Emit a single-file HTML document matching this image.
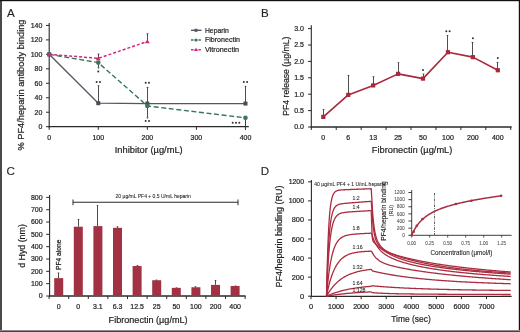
<!DOCTYPE html><html><head><meta charset="utf-8"><style>
html,body{margin:0;padding:0;background:#fff;}
svg{display:block;font-family:"Liberation Sans", sans-serif;will-change:transform;}
</style></head><body>
<svg width="520" height="332" viewBox="0 0 520 332">
<rect width="520" height="332" fill="#fff"/>
<text x="7.0" y="16.8" font-size="11.6" text-anchor="start" fill="#231f20" stroke="#231f20" stroke-width="0.12">A</text>
<line x1="49.20" y1="23.00" x2="49.20" y2="127.40" stroke="#2a2a2a" stroke-width="1.1"/>
<line x1="48.60" y1="126.70" x2="248.80" y2="126.70" stroke="#2a2a2a" stroke-width="1.3"/>
<line x1="46.00" y1="126.70" x2="49.20" y2="126.70" stroke="#2a2a2a" stroke-width="1"/>
<text x="42.4" y="129.15" font-size="7" text-anchor="end" fill="#231f20" stroke="#231f20" stroke-width="0.22">0</text>
<line x1="46.00" y1="112.23" x2="49.20" y2="112.23" stroke="#2a2a2a" stroke-width="1"/>
<text x="42.4" y="114.68" font-size="7" text-anchor="end" fill="#231f20" stroke="#231f20" stroke-width="0.22">20</text>
<line x1="46.00" y1="97.76" x2="49.20" y2="97.76" stroke="#2a2a2a" stroke-width="1"/>
<text x="42.4" y="100.21000000000001" font-size="7" text-anchor="end" fill="#231f20" stroke="#231f20" stroke-width="0.22">40</text>
<line x1="46.00" y1="83.29" x2="49.20" y2="83.29" stroke="#2a2a2a" stroke-width="1"/>
<text x="42.4" y="85.74" font-size="7" text-anchor="end" fill="#231f20" stroke="#231f20" stroke-width="0.22">60</text>
<line x1="46.00" y1="68.82" x2="49.20" y2="68.82" stroke="#2a2a2a" stroke-width="1"/>
<text x="42.4" y="71.27" font-size="7" text-anchor="end" fill="#231f20" stroke="#231f20" stroke-width="0.22">80</text>
<line x1="46.00" y1="54.35" x2="49.20" y2="54.35" stroke="#2a2a2a" stroke-width="1"/>
<text x="42.4" y="56.8" font-size="7" text-anchor="end" fill="#231f20" stroke="#231f20" stroke-width="0.22">100</text>
<line x1="46.00" y1="39.88" x2="49.20" y2="39.88" stroke="#2a2a2a" stroke-width="1"/>
<text x="42.4" y="42.33" font-size="7" text-anchor="end" fill="#231f20" stroke="#231f20" stroke-width="0.22">120</text>
<line x1="46.00" y1="25.41" x2="49.20" y2="25.41" stroke="#2a2a2a" stroke-width="1"/>
<text x="42.4" y="27.859999999999996" font-size="7" text-anchor="end" fill="#231f20" stroke="#231f20" stroke-width="0.22">140</text>
<line x1="49.20" y1="126.70" x2="49.20" y2="129.80" stroke="#2a2a2a" stroke-width="1"/>
<text x="49.2" y="139.6" font-size="7" text-anchor="middle" fill="#231f20" stroke="#231f20" stroke-width="0.22">0</text>
<line x1="98.27" y1="126.70" x2="98.27" y2="129.80" stroke="#2a2a2a" stroke-width="1"/>
<text x="98.27000000000001" y="139.6" font-size="7" text-anchor="middle" fill="#231f20" stroke="#231f20" stroke-width="0.22">100</text>
<line x1="147.34" y1="126.70" x2="147.34" y2="129.80" stroke="#2a2a2a" stroke-width="1"/>
<text x="147.34" y="139.6" font-size="7" text-anchor="middle" fill="#231f20" stroke="#231f20" stroke-width="0.22">200</text>
<line x1="196.41" y1="126.70" x2="196.41" y2="129.80" stroke="#2a2a2a" stroke-width="1"/>
<text x="196.41000000000003" y="139.6" font-size="7" text-anchor="middle" fill="#231f20" stroke="#231f20" stroke-width="0.22">300</text>
<line x1="245.48" y1="126.70" x2="245.48" y2="129.80" stroke="#2a2a2a" stroke-width="1"/>
<text x="245.48000000000002" y="139.6" font-size="7" text-anchor="middle" fill="#231f20" stroke="#231f20" stroke-width="0.22">400</text>
<text x="148.7" y="153.2" font-size="9.3" text-anchor="middle" fill="#231f20" textLength="67.9" lengthAdjust="spacingAndGlyphs" stroke="#231f20" stroke-width="0.22">Inhibitor (µg/mL)</text>
<text x="24.3" y="85.0" font-size="9.6" text-anchor="middle" fill="#231f20" textLength="131" lengthAdjust="spacingAndGlyphs" transform="rotate(-90 24.3 85.0)" stroke="#231f20" stroke-width="0.22">% PF4/heparin antibody binding</text>
<line x1="98.50" y1="103.19" x2="98.50" y2="85.61" stroke="#3a3a3a" stroke-width="0.9"/>
<path d="M97.20,85.61 L99.80,85.61 L98.50,86.81Z" fill="#3a3a3a"/>
<line x1="147.50" y1="103.91" x2="147.50" y2="86.98" stroke="#3a3a3a" stroke-width="0.9"/>
<path d="M146.20,86.98 L148.80,86.98 L147.50,88.18Z" fill="#3a3a3a"/>
<line x1="147.50" y1="105.94" x2="147.50" y2="117.58" stroke="#3a3a3a" stroke-width="0.9"/>
<path d="M146.20,117.58 L148.80,117.58 L147.50,118.78Z" fill="#3a3a3a"/>
<line x1="245.50" y1="103.55" x2="245.50" y2="85.89" stroke="#3a3a3a" stroke-width="0.9"/>
<path d="M244.20,85.89 L246.80,85.89 L245.50,87.09Z" fill="#3a3a3a"/>
<line x1="98.50" y1="58.33" x2="98.50" y2="53.77" stroke="#3a3a3a" stroke-width="0.9"/>
<path d="M97.20,53.77 L99.80,53.77 L98.50,54.97Z" fill="#3a3a3a"/>
<line x1="98.50" y1="62.60" x2="98.50" y2="67.59" stroke="#3a3a3a" stroke-width="0.9"/>
<path d="M97.20,67.59 L99.80,67.59 L98.50,68.79Z" fill="#3a3a3a"/>
<line x1="147.50" y1="41.54" x2="147.50" y2="33.59" stroke="#3a3a3a" stroke-width="0.9"/>
<path d="M146.20,33.59 L148.80,33.59 L147.50,34.79Z" fill="#3a3a3a"/>
<line x1="245.48" y1="117.87" x2="245.48" y2="129.80" stroke="#3a3a3a" stroke-width="1.0"/>
<polyline points="49.20,54.35 98.27,103.19 147.34,103.55 245.48,103.55" fill="none" stroke="#545662" stroke-width="1.35" stroke-linejoin="round"/>
<polyline points="49.20,54.35 98.27,62.60 147.34,105.94 245.48,117.87" fill="none" stroke="#3a7658" stroke-width="1.4" stroke-linejoin="round" stroke-dasharray="5 2.6"/>
<polyline points="49.20,54.35 98.27,58.33 147.34,41.54" fill="none" stroke="#d4267c" stroke-width="1.5" stroke-linejoin="round" stroke-dasharray="3 2"/>
<rect x="47.20" y="52.35" width="4" height="4" fill="#4a4c58"/>
<rect x="96.27" y="101.19" width="4" height="4" fill="#4a4c58"/>
<rect x="145.34" y="101.55" width="4" height="4" fill="#4a4c58"/>
<rect x="243.48" y="101.55" width="4" height="4" fill="#4a4c58"/>
<circle cx="49.20" cy="54.35" r="2.3" fill="#3a7658"/>
<circle cx="98.27" cy="62.60" r="2.3" fill="#3a7658"/>
<circle cx="147.34" cy="105.94" r="2.3" fill="#3a7658"/>
<circle cx="245.48" cy="117.87" r="2.3" fill="#3a7658"/>
<path d="M49.20,51.95 L51.60,56.15 L46.80,56.15Z" fill="#d4267c"/>
<path d="M98.27,55.93 L100.67,60.13 L95.87,60.13Z" fill="#d4267c"/>
<path d="M147.34,39.14 L149.74,43.34 L144.94,43.34Z" fill="#d4267c"/>
<circle cx="96.62" cy="82.00" r="1.00" fill="#333"/>
<circle cx="99.92" cy="82.00" r="1.00" fill="#333"/>
<circle cx="145.69" cy="82.80" r="1.00" fill="#333"/>
<circle cx="148.99" cy="82.80" r="1.00" fill="#333"/>
<circle cx="243.83" cy="82.00" r="1.00" fill="#333"/>
<circle cx="247.13" cy="82.00" r="1.00" fill="#333"/>
<circle cx="98.27" cy="71.50" r="1.00" fill="#333"/>
<circle cx="145.69" cy="121.00" r="1.00" fill="#333"/>
<circle cx="148.99" cy="121.00" r="1.00" fill="#333"/>
<circle cx="232.70" cy="122.80" r="1.00" fill="#333"/>
<circle cx="236.00" cy="122.80" r="1.00" fill="#333"/>
<circle cx="239.30" cy="122.80" r="1.00" fill="#333"/>
<line x1="191.00" y1="30.30" x2="201.50" y2="30.30" stroke="#545662" stroke-width="1.4"/>
<rect x="194.5" y="28.80" width="3" height="3" fill="#545662"/>
<text x="204.9" y="32.6" font-size="7.8" text-anchor="start" fill="#231f20" textLength="24" lengthAdjust="spacingAndGlyphs" stroke="#231f20" stroke-width="0.22">Heparin</text>
<line x1="191.00" y1="40.00" x2="201.50" y2="40.00" stroke="#3a7658" stroke-width="1.4" stroke-dasharray="2.5 1.2"/>
<circle cx="196" cy="40.00" r="1.6" fill="#3a7658"/>
<text x="204.9" y="42.3" font-size="7.8" text-anchor="start" fill="#231f20" textLength="35" lengthAdjust="spacingAndGlyphs" stroke="#231f20" stroke-width="0.22">Fibronectin</text>
<line x1="191.00" y1="49.70" x2="201.50" y2="49.70" stroke="#d4267c" stroke-width="1.4" stroke-dasharray="2.5 1.2"/>
<path d="M196,47.70 L198,51.10 L194,51.10Z" fill="#d4267c"/>
<text x="204.9" y="52.0" font-size="7.8" text-anchor="start" fill="#231f20" textLength="34.2" lengthAdjust="spacingAndGlyphs" stroke="#231f20" stroke-width="0.22">Vitronectin</text>
<text x="260.9" y="16.8" font-size="11.6" text-anchor="start" fill="#231f20" stroke="#231f20" stroke-width="0.12">B</text>
<line x1="311.30" y1="25.20" x2="311.30" y2="127.60" stroke="#2a2a2a" stroke-width="1.1"/>
<line x1="310.70" y1="127.00" x2="511.60" y2="127.00" stroke="#2a2a2a" stroke-width="1.3"/>
<line x1="308.00" y1="127.00" x2="311.30" y2="127.00" stroke="#2a2a2a" stroke-width="1"/>
<text x="303.9" y="129.45" font-size="7" text-anchor="end" fill="#231f20" stroke="#231f20" stroke-width="0.22">0.0</text>
<line x1="308.00" y1="110.60" x2="311.30" y2="110.60" stroke="#2a2a2a" stroke-width="1"/>
<text x="303.9" y="113.05" font-size="7" text-anchor="end" fill="#231f20" stroke="#231f20" stroke-width="0.22">0.5</text>
<line x1="308.00" y1="94.20" x2="311.30" y2="94.20" stroke="#2a2a2a" stroke-width="1"/>
<text x="303.9" y="96.65" font-size="7" text-anchor="end" fill="#231f20" stroke="#231f20" stroke-width="0.22">1.0</text>
<line x1="308.00" y1="77.80" x2="311.30" y2="77.80" stroke="#2a2a2a" stroke-width="1"/>
<text x="303.9" y="80.25000000000001" font-size="7" text-anchor="end" fill="#231f20" stroke="#231f20" stroke-width="0.22">1.5</text>
<line x1="308.00" y1="61.40" x2="311.30" y2="61.40" stroke="#2a2a2a" stroke-width="1"/>
<text x="303.9" y="63.85000000000001" font-size="7" text-anchor="end" fill="#231f20" stroke="#231f20" stroke-width="0.22">2.0</text>
<line x1="308.00" y1="45.00" x2="311.30" y2="45.00" stroke="#2a2a2a" stroke-width="1"/>
<text x="303.9" y="47.45" font-size="7" text-anchor="end" fill="#231f20" stroke="#231f20" stroke-width="0.22">2.5</text>
<line x1="308.00" y1="28.60" x2="311.30" y2="28.60" stroke="#2a2a2a" stroke-width="1"/>
<text x="303.9" y="31.050000000000008" font-size="7" text-anchor="end" fill="#231f20" stroke="#231f20" stroke-width="0.22">3.0</text>
<line x1="311.30" y1="127.00" x2="311.30" y2="130.00" stroke="#2a2a2a" stroke-width="1"/>
<line x1="336.23" y1="127.00" x2="336.23" y2="130.00" stroke="#2a2a2a" stroke-width="1"/>
<line x1="361.16" y1="127.00" x2="361.16" y2="130.00" stroke="#2a2a2a" stroke-width="1"/>
<line x1="386.09" y1="127.00" x2="386.09" y2="130.00" stroke="#2a2a2a" stroke-width="1"/>
<line x1="411.02" y1="127.00" x2="411.02" y2="130.00" stroke="#2a2a2a" stroke-width="1"/>
<line x1="435.95" y1="127.00" x2="435.95" y2="130.00" stroke="#2a2a2a" stroke-width="1"/>
<line x1="460.88" y1="127.00" x2="460.88" y2="130.00" stroke="#2a2a2a" stroke-width="1"/>
<line x1="485.81" y1="127.00" x2="485.81" y2="130.00" stroke="#2a2a2a" stroke-width="1"/>
<line x1="510.74" y1="127.00" x2="510.74" y2="130.00" stroke="#2a2a2a" stroke-width="1"/>
<text x="323.3" y="139.5" font-size="7" text-anchor="middle" fill="#231f20" stroke="#231f20" stroke-width="0.22">0</text>
<text x="348.23" y="139.5" font-size="7" text-anchor="middle" fill="#231f20" stroke="#231f20" stroke-width="0.22">6</text>
<text x="373.16" y="139.5" font-size="7" text-anchor="middle" fill="#231f20" stroke="#231f20" stroke-width="0.22">13</text>
<text x="398.09000000000003" y="139.5" font-size="7" text-anchor="middle" fill="#231f20" stroke="#231f20" stroke-width="0.22">25</text>
<text x="423.02" y="139.5" font-size="7" text-anchor="middle" fill="#231f20" stroke="#231f20" stroke-width="0.22">50</text>
<text x="447.95000000000005" y="139.5" font-size="7" text-anchor="middle" fill="#231f20" stroke="#231f20" stroke-width="0.22">100</text>
<text x="472.88" y="139.5" font-size="7" text-anchor="middle" fill="#231f20" stroke="#231f20" stroke-width="0.22">200</text>
<text x="497.81" y="139.5" font-size="7" text-anchor="middle" fill="#231f20" stroke="#231f20" stroke-width="0.22">400</text>
<text x="412.1" y="153.2" font-size="9.3" text-anchor="middle" fill="#231f20" textLength="80.5" lengthAdjust="spacingAndGlyphs" stroke="#231f20" stroke-width="0.22">Fibronectin (µg/mL)</text>
<text x="288.7" y="76.2" font-size="9.3" text-anchor="middle" fill="#231f20" textLength="79.2" lengthAdjust="spacingAndGlyphs" transform="rotate(-90 288.7 76.2)" stroke="#231f20" stroke-width="0.22">PF4 release (µg/mL)</text>
<line x1="323.50" y1="116.90" x2="323.50" y2="109.29" stroke="#3a3a3a" stroke-width="0.9"/>
<path d="M322.20,109.29 L324.80,109.29 L323.50,110.49Z" fill="#3a3a3a"/>
<line x1="348.50" y1="94.89" x2="348.50" y2="75.18" stroke="#3a3a3a" stroke-width="0.9"/>
<path d="M347.20,75.18 L349.80,75.18 L348.50,76.38Z" fill="#3a3a3a"/>
<line x1="373.50" y1="85.41" x2="373.50" y2="76.49" stroke="#3a3a3a" stroke-width="0.9"/>
<path d="M372.20,76.49 L374.80,76.49 L373.50,77.69Z" fill="#3a3a3a"/>
<line x1="398.50" y1="73.86" x2="398.50" y2="62.38" stroke="#3a3a3a" stroke-width="0.9"/>
<path d="M397.20,62.38 L399.80,62.38 L398.50,63.58Z" fill="#3a3a3a"/>
<line x1="423.50" y1="78.59" x2="423.50" y2="73.86" stroke="#3a3a3a" stroke-width="0.9"/>
<path d="M422.20,73.86 L424.80,73.86 L423.50,75.06Z" fill="#3a3a3a"/>
<line x1="447.50" y1="52.22" x2="447.50" y2="35.16" stroke="#3a3a3a" stroke-width="0.9"/>
<path d="M446.20,35.16 L448.80,35.16 L447.50,36.36Z" fill="#3a3a3a"/>
<line x1="472.50" y1="57.14" x2="472.50" y2="42.05" stroke="#3a3a3a" stroke-width="0.9"/>
<path d="M471.20,42.05 L473.80,42.05 L472.50,43.25Z" fill="#3a3a3a"/>
<line x1="497.50" y1="70.26" x2="497.50" y2="62.06" stroke="#3a3a3a" stroke-width="0.9"/>
<path d="M496.20,62.06 L498.80,62.06 L497.50,63.26Z" fill="#3a3a3a"/>
<polyline points="323.30,116.90 348.23,94.89 373.16,85.41 398.09,73.86 423.02,78.59 447.95,52.22 472.88,57.14 497.81,70.26" fill="none" stroke="#a8283c" stroke-width="1.6" stroke-linejoin="round"/>
<rect x="321.20" y="114.80" width="4.2" height="4.2" fill="#a8283c"/>
<rect x="346.13" y="92.79" width="4.2" height="4.2" fill="#a8283c"/>
<rect x="371.06" y="83.31" width="4.2" height="4.2" fill="#a8283c"/>
<rect x="395.99" y="71.76" width="4.2" height="4.2" fill="#a8283c"/>
<rect x="420.92" y="76.49" width="4.2" height="4.2" fill="#a8283c"/>
<rect x="445.85" y="50.12" width="4.2" height="4.2" fill="#a8283c"/>
<rect x="470.78" y="55.04" width="4.2" height="4.2" fill="#a8283c"/>
<rect x="495.71" y="68.16" width="4.2" height="4.2" fill="#a8283c"/>
<circle cx="423.02" cy="69.90" r="1.00" fill="#333"/>
<circle cx="446.30" cy="31.20" r="1.00" fill="#333"/>
<circle cx="449.60" cy="31.20" r="1.00" fill="#333"/>
<circle cx="472.88" cy="38.20" r="1.00" fill="#333"/>
<circle cx="497.81" cy="58.10" r="1.00" fill="#333"/>
<text x="6.5" y="174.8" font-size="11.6" text-anchor="start" fill="#231f20" stroke="#231f20" stroke-width="0.12">C</text>
<line x1="49.60" y1="195.00" x2="49.60" y2="296.60" stroke="#2a2a2a" stroke-width="1.1"/>
<line x1="49.00" y1="296.00" x2="245.60" y2="296.00" stroke="#2a2a2a" stroke-width="1.3"/>
<line x1="46.20" y1="296.00" x2="49.60" y2="296.00" stroke="#2a2a2a" stroke-width="1"/>
<text x="42.6" y="298.45" font-size="7" text-anchor="end" fill="#231f20" stroke="#231f20" stroke-width="0.22">0</text>
<line x1="46.20" y1="283.67" x2="49.60" y2="283.67" stroke="#2a2a2a" stroke-width="1"/>
<text x="42.6" y="286.12" font-size="7" text-anchor="end" fill="#231f20" stroke="#231f20" stroke-width="0.22">100</text>
<line x1="46.20" y1="271.34" x2="49.60" y2="271.34" stroke="#2a2a2a" stroke-width="1"/>
<text x="42.6" y="273.78999999999996" font-size="7" text-anchor="end" fill="#231f20" stroke="#231f20" stroke-width="0.22">200</text>
<line x1="46.20" y1="259.01" x2="49.60" y2="259.01" stroke="#2a2a2a" stroke-width="1"/>
<text x="42.6" y="261.46" font-size="7" text-anchor="end" fill="#231f20" stroke="#231f20" stroke-width="0.22">300</text>
<line x1="46.20" y1="246.68" x2="49.60" y2="246.68" stroke="#2a2a2a" stroke-width="1"/>
<text x="42.6" y="249.13" font-size="7" text-anchor="end" fill="#231f20" stroke="#231f20" stroke-width="0.22">400</text>
<line x1="46.20" y1="234.35" x2="49.60" y2="234.35" stroke="#2a2a2a" stroke-width="1"/>
<text x="42.6" y="236.79999999999998" font-size="7" text-anchor="end" fill="#231f20" stroke="#231f20" stroke-width="0.22">500</text>
<line x1="46.20" y1="222.02" x2="49.60" y2="222.02" stroke="#2a2a2a" stroke-width="1"/>
<text x="42.6" y="224.46999999999997" font-size="7" text-anchor="end" fill="#231f20" stroke="#231f20" stroke-width="0.22">600</text>
<line x1="46.20" y1="209.69" x2="49.60" y2="209.69" stroke="#2a2a2a" stroke-width="1"/>
<text x="42.6" y="212.14" font-size="7" text-anchor="end" fill="#231f20" stroke="#231f20" stroke-width="0.22">700</text>
<line x1="46.20" y1="197.36" x2="49.60" y2="197.36" stroke="#2a2a2a" stroke-width="1"/>
<text x="42.6" y="199.81" font-size="7" text-anchor="end" fill="#231f20" stroke="#231f20" stroke-width="0.22">800</text>
<line x1="49.10" y1="296.00" x2="49.10" y2="299.00" stroke="#2a2a2a" stroke-width="1"/>
<line x1="68.70" y1="296.00" x2="68.70" y2="299.00" stroke="#2a2a2a" stroke-width="1"/>
<line x1="88.30" y1="296.00" x2="88.30" y2="299.00" stroke="#2a2a2a" stroke-width="1"/>
<line x1="107.90" y1="296.00" x2="107.90" y2="299.00" stroke="#2a2a2a" stroke-width="1"/>
<line x1="127.50" y1="296.00" x2="127.50" y2="299.00" stroke="#2a2a2a" stroke-width="1"/>
<line x1="147.10" y1="296.00" x2="147.10" y2="299.00" stroke="#2a2a2a" stroke-width="1"/>
<line x1="166.70" y1="296.00" x2="166.70" y2="299.00" stroke="#2a2a2a" stroke-width="1"/>
<line x1="186.30" y1="296.00" x2="186.30" y2="299.00" stroke="#2a2a2a" stroke-width="1"/>
<line x1="205.90" y1="296.00" x2="205.90" y2="299.00" stroke="#2a2a2a" stroke-width="1"/>
<line x1="225.50" y1="296.00" x2="225.50" y2="299.00" stroke="#2a2a2a" stroke-width="1"/>
<line x1="245.10" y1="296.00" x2="245.10" y2="299.00" stroke="#2a2a2a" stroke-width="1"/>
<text x="58.7" y="309.0" font-size="7" text-anchor="middle" fill="#231f20" stroke="#231f20" stroke-width="0.22">0</text>
<text x="78.30000000000001" y="309.0" font-size="7" text-anchor="middle" fill="#231f20" stroke="#231f20" stroke-width="0.22">0</text>
<text x="97.9" y="309.0" font-size="7" text-anchor="middle" fill="#231f20" stroke="#231f20" stroke-width="0.22">3.1</text>
<text x="117.5" y="309.0" font-size="7" text-anchor="middle" fill="#231f20" stroke="#231f20" stroke-width="0.22">6.3</text>
<text x="137.10000000000002" y="309.0" font-size="7" text-anchor="middle" fill="#231f20" stroke="#231f20" stroke-width="0.22">12.5</text>
<text x="156.7" y="309.0" font-size="7" text-anchor="middle" fill="#231f20" stroke="#231f20" stroke-width="0.22">25</text>
<text x="176.3" y="309.0" font-size="7" text-anchor="middle" fill="#231f20" stroke="#231f20" stroke-width="0.22">50</text>
<text x="195.90000000000003" y="309.0" font-size="7" text-anchor="middle" fill="#231f20" stroke="#231f20" stroke-width="0.22">100</text>
<text x="215.5" y="309.0" font-size="7" text-anchor="middle" fill="#231f20" stroke="#231f20" stroke-width="0.22">200</text>
<text x="235.10000000000002" y="309.0" font-size="7" text-anchor="middle" fill="#231f20" stroke="#231f20" stroke-width="0.22">400</text>
<text x="148.1" y="322.5" font-size="9.3" text-anchor="middle" fill="#231f20" textLength="79" lengthAdjust="spacingAndGlyphs" stroke="#231f20" stroke-width="0.22">Fibronectin (µg/mL)</text>
<text x="24.8" y="246.0" font-size="9" text-anchor="middle" fill="#231f20" textLength="43.7" lengthAdjust="spacingAndGlyphs" transform="rotate(-90 24.8 246.0)" stroke="#231f20" stroke-width="0.22">d Hyd (nm)</text>
<line x1="58.50" y1="278.12" x2="58.50" y2="272.70" stroke="#3a3a3a" stroke-width="0.9"/>
<path d="M57.30,272.70 L59.70,272.70 L58.50,273.90Z" fill="#3a3a3a"/>
<rect x="54.20" y="278.12" width="9.0" height="17.88" fill="#a23144"/>
<line x1="78.50" y1="226.71" x2="78.50" y2="219.06" stroke="#3a3a3a" stroke-width="0.9"/>
<path d="M77.30,219.06 L79.70,219.06 L78.50,220.26Z" fill="#3a3a3a"/>
<rect x="73.80" y="226.71" width="9.0" height="69.29" fill="#a23144"/>
<line x1="97.50" y1="226.09" x2="97.50" y2="205.13" stroke="#3a3a3a" stroke-width="0.9"/>
<path d="M96.30,205.13 L98.70,205.13 L97.50,206.33Z" fill="#3a3a3a"/>
<rect x="93.40" y="226.09" width="9.0" height="69.91" fill="#a23144"/>
<line x1="117.50" y1="227.82" x2="117.50" y2="226.46" stroke="#3a3a3a" stroke-width="0.9"/>
<path d="M116.30,226.46 L118.70,226.46 L117.50,227.66Z" fill="#3a3a3a"/>
<rect x="113.00" y="227.82" width="9.0" height="68.18" fill="#a23144"/>
<line x1="137.50" y1="266.04" x2="137.50" y2="265.18" stroke="#3a3a3a" stroke-width="0.9"/>
<path d="M136.30,265.18 L138.70,265.18 L137.50,266.38Z" fill="#3a3a3a"/>
<rect x="132.60" y="266.04" width="9.0" height="29.96" fill="#a23144"/>
<line x1="156.50" y1="280.22" x2="156.50" y2="279.72" stroke="#3a3a3a" stroke-width="0.9"/>
<path d="M155.30,279.72 L157.70,279.72 L156.50,280.92Z" fill="#3a3a3a"/>
<rect x="152.20" y="280.22" width="9.0" height="15.78" fill="#a23144"/>
<line x1="176.50" y1="287.86" x2="176.50" y2="287.62" stroke="#3a3a3a" stroke-width="0.9"/>
<path d="M175.30,287.62 L177.70,287.62 L176.50,288.82Z" fill="#3a3a3a"/>
<rect x="171.80" y="287.86" width="9.0" height="8.14" fill="#a23144"/>
<line x1="195.50" y1="287.25" x2="195.50" y2="286.51" stroke="#3a3a3a" stroke-width="0.9"/>
<path d="M194.30,286.51 L196.70,286.51 L195.50,287.71Z" fill="#3a3a3a"/>
<rect x="191.40" y="287.25" width="9.0" height="8.75" fill="#a23144"/>
<line x1="215.50" y1="284.90" x2="215.50" y2="280.22" stroke="#3a3a3a" stroke-width="0.9"/>
<path d="M214.30,280.22 L216.70,280.22 L215.50,281.42Z" fill="#3a3a3a"/>
<rect x="211.00" y="284.90" width="9.0" height="11.10" fill="#a23144"/>
<line x1="235.50" y1="286.01" x2="235.50" y2="285.64" stroke="#3a3a3a" stroke-width="0.9"/>
<path d="M234.30,285.64 L236.70,285.64 L235.50,286.84Z" fill="#3a3a3a"/>
<rect x="230.60" y="286.01" width="9.0" height="9.99" fill="#a23144"/>
<text x="61.4" y="254.8" font-size="6.8" text-anchor="middle" fill="#231f20" textLength="30.4" lengthAdjust="spacingAndGlyphs" transform="rotate(-90 61.4 254.8)" stroke="#231f20" stroke-width="0.22">PF4 alone</text>
<line x1="73.00" y1="202.30" x2="238.00" y2="202.30" stroke="#2a2a2a" stroke-width="1.1"/>
<line x1="73.00" y1="199.50" x2="73.00" y2="205.20" stroke="#2a2a2a" stroke-width="1.0"/>
<line x1="238.00" y1="199.50" x2="238.00" y2="205.20" stroke="#2a2a2a" stroke-width="1.0"/>
<text x="153.2" y="198.0" font-size="4.8" text-anchor="middle" fill="#231f20" textLength="75.3" lengthAdjust="spacingAndGlyphs" stroke="#231f20" stroke-width="0.08">20 µg/mL PF4 + 0.5 U/mL heparin</text>
<text x="260.7" y="174.8" font-size="11.6" text-anchor="start" fill="#231f20" stroke="#231f20" stroke-width="0.12">D</text>
<line x1="311.40" y1="180.00" x2="311.40" y2="296.90" stroke="#2a2a2a" stroke-width="1.1"/>
<line x1="310.80" y1="296.30" x2="511.60" y2="296.30" stroke="#2a2a2a" stroke-width="1.3"/>
<line x1="308.00" y1="296.20" x2="311.40" y2="296.20" stroke="#2a2a2a" stroke-width="1"/>
<text x="304.0" y="298.7" font-size="7.4" text-anchor="end" fill="#231f20" stroke="#231f20" stroke-width="0.22">0</text>
<line x1="308.00" y1="277.14" x2="311.40" y2="277.14" stroke="#2a2a2a" stroke-width="1"/>
<text x="304.0" y="279.64" font-size="7.4" text-anchor="end" fill="#231f20" textLength="12.2" lengthAdjust="spacingAndGlyphs" stroke="#231f20" stroke-width="0.22">200</text>
<line x1="308.00" y1="258.08" x2="311.40" y2="258.08" stroke="#2a2a2a" stroke-width="1"/>
<text x="304.0" y="260.58" font-size="7.4" text-anchor="end" fill="#231f20" textLength="12.2" lengthAdjust="spacingAndGlyphs" stroke="#231f20" stroke-width="0.22">400</text>
<line x1="308.00" y1="239.02" x2="311.40" y2="239.02" stroke="#2a2a2a" stroke-width="1"/>
<text x="304.0" y="241.51999999999998" font-size="7.4" text-anchor="end" fill="#231f20" textLength="12.2" lengthAdjust="spacingAndGlyphs" stroke="#231f20" stroke-width="0.22">600</text>
<line x1="308.00" y1="219.96" x2="311.40" y2="219.96" stroke="#2a2a2a" stroke-width="1"/>
<text x="304.0" y="222.45999999999998" font-size="7.4" text-anchor="end" fill="#231f20" textLength="12.2" lengthAdjust="spacingAndGlyphs" stroke="#231f20" stroke-width="0.22">800</text>
<line x1="308.00" y1="200.90" x2="311.40" y2="200.90" stroke="#2a2a2a" stroke-width="1"/>
<text x="304.0" y="203.39999999999998" font-size="7.4" text-anchor="end" fill="#231f20" textLength="15.3" lengthAdjust="spacingAndGlyphs" stroke="#231f20" stroke-width="0.22">1000</text>
<line x1="308.00" y1="181.84" x2="311.40" y2="181.84" stroke="#2a2a2a" stroke-width="1"/>
<text x="304.0" y="184.33999999999997" font-size="7.4" text-anchor="end" fill="#231f20" textLength="15.3" lengthAdjust="spacingAndGlyphs" stroke="#231f20" stroke-width="0.22">1200</text>
<line x1="311.00" y1="296.10" x2="311.00" y2="299.20" stroke="#2a2a2a" stroke-width="1"/>
<text x="311.0" y="309.3" font-size="7.4" text-anchor="middle" fill="#231f20" stroke="#231f20" stroke-width="0.22">0</text>
<line x1="336.07" y1="296.10" x2="336.07" y2="299.20" stroke="#2a2a2a" stroke-width="1"/>
<text x="336.07" y="309.3" font-size="7.4" text-anchor="middle" fill="#231f20" textLength="16.0" lengthAdjust="spacingAndGlyphs" stroke="#231f20" stroke-width="0.22">1000</text>
<line x1="361.14" y1="296.10" x2="361.14" y2="299.20" stroke="#2a2a2a" stroke-width="1"/>
<text x="361.14" y="309.3" font-size="7.4" text-anchor="middle" fill="#231f20" textLength="16.0" lengthAdjust="spacingAndGlyphs" stroke="#231f20" stroke-width="0.22">2000</text>
<line x1="386.21" y1="296.10" x2="386.21" y2="299.20" stroke="#2a2a2a" stroke-width="1"/>
<text x="386.21" y="309.3" font-size="7.4" text-anchor="middle" fill="#231f20" textLength="16.0" lengthAdjust="spacingAndGlyphs" stroke="#231f20" stroke-width="0.22">3000</text>
<line x1="411.28" y1="296.10" x2="411.28" y2="299.20" stroke="#2a2a2a" stroke-width="1"/>
<text x="411.28" y="309.3" font-size="7.4" text-anchor="middle" fill="#231f20" textLength="16.0" lengthAdjust="spacingAndGlyphs" stroke="#231f20" stroke-width="0.22">4000</text>
<line x1="436.35" y1="296.10" x2="436.35" y2="299.20" stroke="#2a2a2a" stroke-width="1"/>
<text x="436.35" y="309.3" font-size="7.4" text-anchor="middle" fill="#231f20" textLength="16.0" lengthAdjust="spacingAndGlyphs" stroke="#231f20" stroke-width="0.22">5000</text>
<line x1="461.42" y1="296.10" x2="461.42" y2="299.20" stroke="#2a2a2a" stroke-width="1"/>
<text x="461.41999999999996" y="309.3" font-size="7.4" text-anchor="middle" fill="#231f20" textLength="16.0" lengthAdjust="spacingAndGlyphs" stroke="#231f20" stroke-width="0.22">6000</text>
<line x1="486.49" y1="296.10" x2="486.49" y2="299.20" stroke="#2a2a2a" stroke-width="1"/>
<text x="486.49" y="309.3" font-size="7.4" text-anchor="middle" fill="#231f20" textLength="16.0" lengthAdjust="spacingAndGlyphs" stroke="#231f20" stroke-width="0.22">7000</text>
<text x="411.0" y="322.2" font-size="9.8" text-anchor="middle" fill="#231f20" textLength="39.5" lengthAdjust="spacingAndGlyphs" stroke="#231f20" stroke-width="0.22">Time (sec)</text>
<text x="281.8" y="236.6" font-size="9.5" text-anchor="middle" fill="#231f20" textLength="102" lengthAdjust="spacingAndGlyphs" transform="rotate(-90 281.8 236.6)" stroke="#231f20" stroke-width="0.22">PF4/heparin binding (RU)</text>
<polyline points="326.54,296.20 326.69,288.85 326.84,282.00 326.99,275.63 327.15,269.71 327.30,264.19 327.45,259.06 327.60,254.28 327.75,249.84 327.90,245.70 328.05,241.85 328.20,238.27 328.35,234.93 328.50,231.83 328.65,228.94 328.80,226.25 328.95,223.75 329.10,221.43 329.25,219.26 329.40,217.24 329.55,215.37 329.70,213.62 329.85,211.99 330.00,210.48 330.15,209.07 330.30,207.76 330.45,206.54 330.60,205.40 330.76,204.35 330.91,203.36 331.06,202.44 331.21,201.59 331.36,200.80 331.51,200.06 331.66,199.37 331.81,198.73 331.96,198.13 332.11,197.58 332.26,197.06 332.41,196.58 332.56,196.13 332.71,195.71 332.86,195.32 333.01,194.96 333.16,194.62 333.31,194.30 333.46,194.01 333.61,193.74 333.76,193.48 333.91,193.24 334.06,193.02 334.21,192.81 334.37,192.62 334.52,192.44 334.67,192.28 334.82,192.12 334.97,191.97 335.12,191.84 335.27,191.71 335.42,191.59 335.57,191.48 335.72,191.38 335.87,191.28 336.02,191.19 336.17,191.11 336.32,191.03 336.47,190.95 336.62,190.88 337.37,190.60 338.13,190.39 338.88,190.24 339.63,190.12 340.38,190.03 341.13,189.96 341.89,189.90 342.64,189.85 343.39,189.81 344.14,189.77 344.89,189.74 345.65,189.70 346.40,189.67 347.15,189.64 347.90,189.61 348.66,189.58 349.41,189.55 350.16,189.52 350.91,189.49 351.66,189.46 352.42,189.43 353.17,189.41 353.92,189.38 354.67,189.35 355.42,189.32 356.18,189.29 356.93,189.26 357.68,189.23 358.43,189.20 359.18,189.18 359.94,189.15 360.69,189.12 361.44,189.09 362.19,189.06 362.95,189.03 363.70,189.00 364.45,188.98 365.20,188.95 365.95,188.92 366.71,188.89 367.46,188.86 368.21,188.83 368.96,188.80 369.71,188.78 370.47,188.75 371.22,188.72 371.97,200.70 372.12,203.82 372.27,206.62 372.42,209.17 372.57,211.49 372.72,213.62 372.87,215.58 373.02,217.39 373.17,219.06 373.32,220.62 373.47,222.06 373.62,223.41 373.78,224.67 373.93,225.84 374.08,226.94 374.23,227.98 374.38,228.95 374.53,229.86 374.68,230.72 374.83,231.53 374.98,232.30 375.13,233.02 375.28,233.71 375.43,234.36 375.58,234.98 375.73,235.56 375.88,236.12 376.03,236.66 376.18,237.17 376.33,237.65 376.48,238.12 376.63,238.57 376.78,238.99 376.93,239.40 377.08,239.80 377.23,240.18 377.39,240.54 377.54,240.90 377.69,241.23 377.84,241.56 377.99,241.88 378.14,242.18 378.29,242.48 378.44,242.76 378.59,243.04 378.74,243.31 378.89,243.57 379.04,243.82 379.19,244.07 379.34,244.31 379.49,244.54 379.64,244.76 379.79,244.98 379.94,245.20 380.09,245.40 380.24,245.60 380.39,245.80 380.54,245.99 380.69,246.18 380.85,246.36 381.00,246.54 381.15,246.72 381.30,246.89 381.45,247.05 381.60,247.22 381.75,247.38 381.90,247.53 382.05,247.68 382.20,247.83 382.35,247.98 382.50,248.12 382.65,248.26 382.80,248.40 382.95,248.53 383.10,248.66 383.25,248.79 383.40,248.92 383.55,249.04 383.70,249.16 383.85,249.28 384.00,249.40 384.15,249.52 384.30,249.63 384.46,249.74 384.61,249.85 384.76,249.96 384.91,250.06 385.06,250.16 385.21,250.27 385.36,250.37 385.51,250.46 385.66,250.56 385.81,250.66 385.96,250.75 386.11,250.84 386.26,250.93 386.41,251.02 386.56,251.11 387.31,251.53 388.07,251.93 388.82,252.30 389.57,252.65 390.32,252.97 391.07,253.29 391.83,253.59 392.58,253.87 393.33,254.15 394.08,254.41 394.83,254.66 395.59,254.91 396.34,255.15 397.09,255.39 397.84,255.61 398.59,255.83 399.35,256.05 400.10,256.26 400.85,256.47 401.60,256.68 402.36,256.88 403.11,257.08 403.86,257.27 404.61,257.46 405.36,257.65 406.12,257.84 406.87,258.02 407.62,258.20 408.37,258.38 409.12,258.56 409.88,258.73 410.63,258.90 411.38,259.08 412.13,259.24 412.88,259.41 413.64,259.57 414.39,259.74 415.14,259.90 415.89,260.06 416.64,260.21 417.40,260.37 418.15,260.52 418.90,260.68 419.65,260.83 420.41,260.98 421.16,261.12 421.91,261.27 422.66,261.42 423.41,261.56 424.17,261.70 424.92,261.84 425.67,261.98 426.42,262.12 427.17,262.25 427.93,262.39 428.68,262.52 429.43,262.65 430.18,262.79 430.93,262.92 431.69,263.04 432.44,263.17 433.19,263.30 433.94,263.42 434.70,263.55 435.45,263.67 436.20,263.79 436.95,263.91 437.70,264.03 438.46,264.15 439.21,264.26 439.96,264.38 440.71,264.49 441.46,264.61 442.22,264.72 442.97,264.83 443.72,264.94 444.47,265.05 445.22,265.16 445.98,265.27 446.73,265.38 447.48,265.48 448.23,265.59 448.99,265.69 449.74,265.80 450.49,265.90 451.24,266.00 451.99,266.10 452.75,266.20 453.50,266.30 454.25,266.40 455.00,266.49 455.75,266.59 456.51,266.69 457.26,266.78 458.01,266.87 458.76,266.97 459.51,267.06 460.27,267.15 461.02,267.24 461.77,267.33 462.52,267.42 463.28,267.51 464.03,267.60 464.78,267.69 465.53,267.77 466.28,267.86 467.04,267.95 467.79,268.03 468.54,268.11 469.29,268.20 470.04,268.28 470.80,268.36 471.55,268.44 472.30,268.53 473.05,268.61 473.80,268.69 474.56,268.77 475.31,268.84 476.06,268.92 476.81,269.00 477.57,269.08 478.32,269.15 479.07,269.23 479.82,269.30 480.57,269.38 481.33,269.45 482.08,269.53 482.83,269.60 483.58,269.67 484.33,269.74 485.09,269.82 485.84,269.89 486.59,269.96 487.34,270.03 488.09,270.10 488.85,270.17 489.60,270.24 490.35,270.30 491.10,270.37 491.85,270.44 492.61,270.51 493.36,270.57 494.11,270.64 494.86,270.70 495.62,270.77 496.37,270.83 497.12,270.90 497.87,270.96 498.62,271.03 499.38,271.09 500.13,271.15 500.88,271.22 501.63,271.28 502.38,271.34 503.14,271.40 503.89,271.46 504.64,271.52 505.39,271.58 506.14,271.64 506.90,271.70 507.65,271.76 508.40,271.82 509.15,271.88 509.91,271.94 510.66,271.99" fill="none" stroke="#ab2d41" stroke-width="1.3" stroke-linejoin="round"/>
<polyline points="326.54,296.20 326.69,290.86 326.84,285.83 326.99,281.09 327.15,276.63 327.30,272.43 327.45,268.47 327.60,264.74 327.75,261.23 327.90,257.92 328.05,254.81 328.20,251.87 328.35,249.11 328.50,246.50 328.65,244.05 328.80,241.74 328.95,239.56 329.10,237.51 329.25,235.58 329.40,233.75 329.55,232.04 329.70,230.42 329.85,228.90 330.00,227.47 330.15,226.11 330.30,224.84 330.45,223.64 330.60,222.51 330.76,221.44 330.91,220.44 331.06,219.49 331.21,218.60 331.36,217.76 331.51,216.97 331.66,216.22 331.81,215.52 331.96,214.85 332.11,214.23 332.26,213.64 332.41,213.08 332.56,212.55 332.71,212.06 332.86,211.59 333.01,211.15 333.16,210.74 333.31,210.35 333.46,209.98 333.61,209.63 333.76,209.30 333.91,208.99 334.06,208.70 334.21,208.42 334.37,208.16 334.52,207.91 334.67,207.68 334.82,207.46 334.97,207.25 335.12,207.05 335.27,206.87 335.42,206.69 335.57,206.53 335.72,206.37 335.87,206.22 336.02,206.08 336.17,205.95 336.32,205.82 336.47,205.70 336.62,205.59 337.37,205.11 338.13,204.73 338.88,204.44 339.63,204.21 340.38,204.03 341.13,203.87 341.89,203.75 342.64,203.64 343.39,203.54 344.14,203.46 344.89,203.38 345.65,203.30 346.40,203.24 347.15,203.17 347.90,203.11 348.66,203.04 349.41,202.98 350.16,202.92 350.91,202.86 351.66,202.81 352.42,202.75 353.17,202.69 353.92,202.63 354.67,202.57 355.42,202.52 356.18,202.46 356.93,202.40 357.68,202.35 358.43,202.29 359.18,202.23 359.94,202.17 360.69,202.12 361.44,202.06 362.19,202.00 362.95,201.94 363.70,201.89 364.45,201.83 365.20,201.77 365.95,201.72 366.71,201.66 367.46,201.60 368.21,201.54 368.96,201.49 369.71,201.43 370.47,201.37 371.22,201.32 371.97,210.81 372.12,213.34 372.27,215.66 372.42,217.78 372.57,219.74 372.72,221.54 372.87,223.20 373.02,224.73 373.17,226.14 373.32,227.44 373.47,228.65 373.62,229.77 373.78,230.81 373.93,231.77 374.08,232.67 374.23,233.50 374.38,234.28 374.53,235.01 374.68,235.69 374.83,236.33 374.98,236.93 375.13,237.49 375.28,238.02 375.43,238.52 375.58,238.99 375.73,239.43 375.88,239.86 376.03,240.26 376.18,240.64 376.33,241.00 376.48,241.35 376.63,241.68 376.78,241.99 376.93,242.29 377.08,242.58 377.23,242.86 377.39,243.12 377.54,243.38 377.69,243.63 377.84,243.87 377.99,244.10 378.14,244.32 378.29,244.54 378.44,244.74 378.59,244.95 378.74,245.14 378.89,245.33 379.04,245.52 379.19,245.70 379.34,245.88 379.49,246.05 379.64,246.21 379.79,246.38 379.94,246.54 380.09,246.69 380.24,246.84 380.39,246.99 380.54,247.14 380.69,247.28 380.85,247.42 381.00,247.56 381.15,247.69 381.30,247.83 381.45,247.96 381.60,248.08 381.75,248.21 381.90,248.33 382.05,248.45 382.20,248.57 382.35,248.69 382.50,248.80 382.65,248.92 382.80,249.03 382.95,249.14 383.10,249.25 383.25,249.35 383.40,249.46 383.55,249.56 383.70,249.66 383.85,249.76 384.00,249.86 384.15,249.96 384.30,250.06 384.46,250.15 384.61,250.25 384.76,250.34 384.91,250.43 385.06,250.53 385.21,250.62 385.36,250.71 385.51,250.79 385.66,250.88 385.81,250.97 385.96,251.05 386.11,251.14 386.26,251.22 386.41,251.30 386.56,251.39 387.31,251.78 388.07,252.16 388.82,252.53 389.57,252.88 390.32,253.21 391.07,253.54 391.83,253.86 392.58,254.16 393.33,254.46 394.08,254.75 394.83,255.04 395.59,255.31 396.34,255.58 397.09,255.85 397.84,256.11 398.59,256.37 399.35,256.62 400.10,256.86 400.85,257.10 401.60,257.34 402.36,257.58 403.11,257.81 403.86,258.03 404.61,258.26 405.36,258.48 406.12,258.69 406.87,258.91 407.62,259.12 408.37,259.32 409.12,259.53 409.88,259.73 410.63,259.93 411.38,260.13 412.13,260.32 412.88,260.51 413.64,260.70 414.39,260.89 415.14,261.07 415.89,261.25 416.64,261.43 417.40,261.61 418.15,261.78 418.90,261.95 419.65,262.12 420.41,262.29 421.16,262.46 421.91,262.62 422.66,262.78 423.41,262.94 424.17,263.10 424.92,263.25 425.67,263.41 426.42,263.56 427.17,263.71 427.93,263.86 428.68,264.00 429.43,264.15 430.18,264.29 430.93,264.43 431.69,264.57 432.44,264.71 433.19,264.84 433.94,264.98 434.70,265.11 435.45,265.24 436.20,265.37 436.95,265.49 437.70,265.62 438.46,265.75 439.21,265.87 439.96,265.99 440.71,266.11 441.46,266.23 442.22,266.35 442.97,266.46 443.72,266.58 444.47,266.69 445.22,266.80 445.98,266.91 446.73,267.02 447.48,267.13 448.23,267.23 448.99,267.34 449.74,267.44 450.49,267.55 451.24,267.65 451.99,267.75 452.75,267.85 453.50,267.95 454.25,268.04 455.00,268.14 455.75,268.23 456.51,268.33 457.26,268.42 458.01,268.51 458.76,268.60 459.51,268.69 460.27,268.78 461.02,268.87 461.77,268.96 462.52,269.04 463.28,269.13 464.03,269.21 464.78,269.30 465.53,269.38 466.28,269.46 467.04,269.54 467.79,269.62 468.54,269.70 469.29,269.78 470.04,269.85 470.80,269.93 471.55,270.00 472.30,270.08 473.05,270.15 473.80,270.23 474.56,270.30 475.31,270.37 476.06,270.44 476.81,270.51 477.57,270.58 478.32,270.65 479.07,270.72 479.82,270.79 480.57,270.85 481.33,270.92 482.08,270.98 482.83,271.05 483.58,271.11 484.33,271.18 485.09,271.24 485.84,271.30 486.59,271.36 487.34,271.42 488.09,271.48 488.85,271.54 489.60,271.60 490.35,271.66 491.10,271.72 491.85,271.78 492.61,271.84 493.36,271.89 494.11,271.95 494.86,272.00 495.62,272.06 496.37,272.11 497.12,272.17 497.87,272.22 498.62,272.27 499.38,272.33 500.13,272.38 500.88,272.43 501.63,272.48 502.38,272.53 503.14,272.58 503.89,272.63 504.64,272.68 505.39,272.73 506.14,272.78 506.90,272.83 507.65,272.88 508.40,272.92 509.15,272.97 509.91,273.02 510.66,273.06" fill="none" stroke="#ab2d41" stroke-width="1.3" stroke-linejoin="round"/>
<polyline points="326.54,296.20 326.69,292.31 326.84,288.59 326.99,285.05 327.15,281.68 327.30,278.46 327.45,275.40 327.60,272.48 327.75,269.69 327.90,267.03 328.05,264.50 328.20,262.09 328.35,259.79 328.50,257.59 328.65,255.50 328.80,253.51 328.95,251.61 329.10,249.80 329.25,248.07 329.40,246.42 329.55,244.85 329.70,243.36 329.85,241.93 330.00,240.57 330.15,239.27 330.30,238.03 330.45,236.85 330.60,235.73 330.76,234.66 330.91,233.63 331.06,232.66 331.21,231.73 331.36,230.84 331.51,230.00 331.66,229.19 331.81,228.42 331.96,227.69 332.11,226.99 332.26,226.32 332.41,225.69 332.56,225.08 332.71,224.50 332.86,223.95 333.01,223.42 333.16,222.92 333.31,222.44 333.46,221.98 333.61,221.55 333.76,221.13 333.91,220.73 334.06,220.35 334.21,219.99 334.37,219.65 334.52,219.32 334.67,219.00 334.82,218.70 334.97,218.42 335.12,218.14 335.27,217.88 335.42,217.63 335.57,217.39 335.72,217.17 335.87,216.95 336.02,216.74 336.17,216.54 336.32,216.36 336.47,216.17 336.62,216.00 337.37,215.25 338.13,214.64 338.88,214.16 339.63,213.77 340.38,213.45 341.13,213.19 341.89,212.98 342.64,212.80 343.39,212.65 344.14,212.52 344.89,212.41 345.65,212.31 346.40,212.23 347.15,212.15 347.90,212.08 348.66,212.02 349.41,211.95 350.16,211.90 350.91,211.84 351.66,211.79 352.42,211.74 353.17,211.69 353.92,211.64 354.67,211.59 355.42,211.54 356.18,211.49 356.93,211.45 357.68,211.40 358.43,211.35 359.18,211.31 359.94,211.26 360.69,211.21 361.44,211.17 362.19,211.12 362.95,211.08 363.70,211.03 364.45,210.98 365.20,210.94 365.95,210.89 366.71,210.85 367.46,210.80 368.21,210.75 368.96,210.71 369.71,210.66 370.47,210.62 371.22,210.57 371.97,231.97 372.12,234.84 372.27,236.82 372.42,238.21 372.57,239.19 372.72,239.91 372.87,240.44 373.02,240.86 373.17,241.19 373.32,241.46 373.47,241.70 373.62,241.91 373.78,242.10 373.93,242.29 374.08,242.46 374.23,242.63 374.38,242.79 374.53,242.95 374.68,243.11 374.83,243.26 374.98,243.41 375.13,243.57 375.28,243.72 375.43,243.87 375.58,244.01 375.73,244.16 375.88,244.30 376.03,244.45 376.18,244.59 376.33,244.73 376.48,244.88 376.63,245.02 376.78,245.15 376.93,245.29 377.08,245.43 377.23,245.57 377.39,245.70 377.54,245.83 377.69,245.97 377.84,246.10 377.99,246.23 378.14,246.36 378.29,246.49 378.44,246.62 378.59,246.75 378.74,246.87 378.89,247.00 379.04,247.12 379.19,247.25 379.34,247.37 379.49,247.49 379.64,247.61 379.79,247.73 379.94,247.85 380.09,247.97 380.24,248.09 380.39,248.21 380.54,248.33 380.69,248.44 380.85,248.56 381.00,248.67 381.15,248.78 381.30,248.90 381.45,249.01 381.60,249.12 381.75,249.23 381.90,249.34 382.05,249.45 382.20,249.56 382.35,249.66 382.50,249.77 382.65,249.87 382.80,249.98 382.95,250.08 383.10,250.19 383.25,250.29 383.40,250.39 383.55,250.50 383.70,250.60 383.85,250.70 384.00,250.80 384.15,250.90 384.30,250.99 384.46,251.09 384.61,251.19 384.76,251.29 384.91,251.38 385.06,251.48 385.21,251.57 385.36,251.67 385.51,251.76 385.66,251.85 385.81,251.94 385.96,252.04 386.11,252.13 386.26,252.22 386.41,252.31 386.56,252.40 387.31,252.84 388.07,253.26 388.82,253.67 389.57,254.07 390.32,254.46 391.07,254.84 391.83,255.20 392.58,255.56 393.33,255.91 394.08,256.24 394.83,256.57 395.59,256.89 396.34,257.20 397.09,257.50 397.84,257.79 398.59,258.08 399.35,258.36 400.10,258.63 400.85,258.89 401.60,259.15 402.36,259.41 403.11,259.65 403.86,259.89 404.61,260.13 405.36,260.36 406.12,260.58 406.87,260.81 407.62,261.02 408.37,261.23 409.12,261.44 409.88,261.64 410.63,261.84 411.38,262.03 412.13,262.22 412.88,262.41 413.64,262.59 414.39,262.77 415.14,262.95 415.89,263.12 416.64,263.29 417.40,263.46 418.15,263.63 418.90,263.79 419.65,263.95 420.41,264.10 421.16,264.26 421.91,264.41 422.66,264.56 423.41,264.70 424.17,264.85 424.92,264.99 425.67,265.13 426.42,265.26 427.17,265.40 427.93,265.53 428.68,265.66 429.43,265.79 430.18,265.92 430.93,266.05 431.69,266.17 432.44,266.30 433.19,266.42 433.94,266.54 434.70,266.65 435.45,266.77 436.20,266.89 436.95,267.00 437.70,267.11 438.46,267.22 439.21,267.33 439.96,267.44 440.71,267.55 441.46,267.65 442.22,267.76 442.97,267.86 443.72,267.96 444.47,268.06 445.22,268.16 445.98,268.26 446.73,268.36 447.48,268.45 448.23,268.55 448.99,268.64 449.74,268.74 450.49,268.83 451.24,268.92 451.99,269.01 452.75,269.10 453.50,269.19 454.25,269.28 455.00,269.36 455.75,269.45 456.51,269.53 457.26,269.62 458.01,269.70 458.76,269.79 459.51,269.87 460.27,269.95 461.02,270.03 461.77,270.11 462.52,270.19 463.28,270.27 464.03,270.34 464.78,270.42 465.53,270.50 466.28,270.57 467.04,270.65 467.79,270.72 468.54,270.80 469.29,270.87 470.04,270.94 470.80,271.01 471.55,271.08 472.30,271.16 473.05,271.23 473.80,271.30 474.56,271.36 475.31,271.43 476.06,271.50 476.81,271.57 477.57,271.63 478.32,271.70 479.07,271.77 479.82,271.83 480.57,271.90 481.33,271.96 482.08,272.02 482.83,272.09 483.58,272.15 484.33,272.21 485.09,272.27 485.84,272.34 486.59,272.40 487.34,272.46 488.09,272.52 488.85,272.58 489.60,272.64 490.35,272.70 491.10,272.75 491.85,272.81 492.61,272.87 493.36,272.93 494.11,272.98 494.86,273.04 495.62,273.10 496.37,273.15 497.12,273.21 497.87,273.26 498.62,273.32 499.38,273.37 500.13,273.42 500.88,273.48 501.63,273.53 502.38,273.58 503.14,273.64 503.89,273.69 504.64,273.74 505.39,273.79 506.14,273.84 506.90,273.89 507.65,273.94 508.40,273.99 509.15,274.04 509.91,274.09 510.66,274.14" fill="none" stroke="#ab2d41" stroke-width="1.3" stroke-linejoin="round"/>
<polyline points="326.54,296.20 326.69,294.39 326.84,292.63 326.99,290.93 327.15,289.28 327.30,287.67 327.45,286.11 327.60,284.60 327.75,283.13 327.90,281.71 328.05,280.32 328.20,278.98 328.35,277.68 328.50,276.41 328.65,275.19 328.80,274.00 328.95,272.84 329.10,271.72 329.25,270.63 329.40,269.57 329.55,268.54 329.70,267.55 329.85,266.58 330.00,265.64 330.15,264.73 330.30,263.85 330.45,262.99 330.60,262.16 330.76,261.35 330.91,260.56 331.06,259.80 331.21,259.06 331.36,258.34 331.51,257.64 331.66,256.97 331.81,256.31 331.96,255.67 332.11,255.05 332.26,254.45 332.41,253.87 332.56,253.30 332.71,252.75 332.86,252.22 333.01,251.70 333.16,251.20 333.31,250.71 333.46,250.24 333.61,249.78 333.76,249.33 333.91,248.90 334.06,248.47 334.21,248.07 334.37,247.67 334.52,247.28 334.67,246.91 334.82,246.54 334.97,246.19 335.12,245.85 335.27,245.52 335.42,245.19 335.57,244.88 335.72,244.57 335.87,244.28 336.02,243.99 336.17,243.71 336.32,243.44 336.47,243.18 336.62,242.92 337.37,241.75 338.13,240.73 338.88,239.86 339.63,239.10 340.38,238.44 341.13,237.87 341.89,237.37 342.64,236.94 343.39,236.56 344.14,236.23 344.89,235.94 345.65,235.69 346.40,235.46 347.15,235.27 347.90,235.10 348.66,234.94 349.41,234.80 350.16,234.68 350.91,234.57 351.66,234.47 352.42,234.38 353.17,234.29 353.92,234.22 354.67,234.15 355.42,234.08 356.18,234.02 356.93,233.96 357.68,233.91 358.43,233.86 359.18,233.81 359.94,233.76 360.69,233.72 361.44,233.67 362.19,233.63 362.95,233.59 363.70,233.55 364.45,233.51 365.20,233.47 365.95,233.43 366.71,233.40 367.46,233.36 368.21,233.32 368.96,233.29 369.71,233.25 370.47,233.21 371.22,233.18 371.97,234.70 372.12,235.17 372.27,235.64 372.42,236.09 372.57,236.54 372.72,236.97 372.87,237.39 373.02,237.81 373.17,238.21 373.32,238.61 373.47,239.00 373.62,239.38 373.78,239.75 373.93,240.11 374.08,240.46 374.23,240.81 374.38,241.15 374.53,241.48 374.68,241.80 374.83,242.12 374.98,242.43 375.13,242.74 375.28,243.04 375.43,243.33 375.58,243.61 375.73,243.90 375.88,244.17 376.03,244.44 376.18,244.70 376.33,244.96 376.48,245.22 376.63,245.46 376.78,245.71 376.93,245.95 377.08,246.18 377.23,246.41 377.39,246.64 377.54,246.86 377.69,247.08 377.84,247.29 377.99,247.50 378.14,247.71 378.29,247.91 378.44,248.11 378.59,248.30 378.74,248.49 378.89,248.68 379.04,248.87 379.19,249.05 379.34,249.23 379.49,249.40 379.64,249.58 379.79,249.75 379.94,249.91 380.09,250.08 380.24,250.24 380.39,250.40 380.54,250.56 380.69,250.71 380.85,250.86 381.00,251.01 381.15,251.16 381.30,251.31 381.45,251.45 381.60,251.59 381.75,251.73 381.90,251.87 382.05,252.00 382.20,252.14 382.35,252.27 382.50,252.40 382.65,252.53 382.80,252.65 382.95,252.78 383.10,252.90 383.25,253.02 383.40,253.14 383.55,253.26 383.70,253.38 383.85,253.49 384.00,253.60 384.15,253.72 384.30,253.83 384.46,253.94 384.61,254.05 384.76,254.15 384.91,254.26 385.06,254.36 385.21,254.47 385.36,254.57 385.51,254.67 385.66,254.77 385.81,254.87 385.96,254.97 386.11,255.06 386.26,255.16 386.41,255.25 386.56,255.35 387.31,255.80 388.07,256.24 388.82,256.65 389.57,257.05 390.32,257.43 391.07,257.79 391.83,258.14 392.58,258.48 393.33,258.81 394.08,259.13 394.83,259.44 395.59,259.73 396.34,260.02 397.09,260.31 397.84,260.58 398.59,260.85 399.35,261.11 400.10,261.36 400.85,261.61 401.60,261.85 402.36,262.09 403.11,262.32 403.86,262.55 404.61,262.77 405.36,262.99 406.12,263.20 406.87,263.41 407.62,263.61 408.37,263.81 409.12,264.01 409.88,264.21 410.63,264.40 411.38,264.58 412.13,264.77 412.88,264.95 413.64,265.12 414.39,265.30 415.14,265.47 415.89,265.64 416.64,265.81 417.40,265.97 418.15,266.13 418.90,266.29 419.65,266.44 420.41,266.60 421.16,266.75 421.91,266.90 422.66,267.04 423.41,267.19 424.17,267.33 424.92,267.47 425.67,267.61 426.42,267.75 427.17,267.88 427.93,268.01 428.68,268.14 429.43,268.27 430.18,268.40 430.93,268.53 431.69,268.65 432.44,268.77 433.19,268.89 433.94,269.01 434.70,269.13 435.45,269.25 436.20,269.36 436.95,269.48 437.70,269.59 438.46,269.70 439.21,269.81 439.96,269.92 440.71,270.02 441.46,270.13 442.22,270.23 442.97,270.34 443.72,270.44 444.47,270.54 445.22,270.64 445.98,270.74 446.73,270.83 447.48,270.93 448.23,271.02 448.99,271.12 449.74,271.21 450.49,271.30 451.24,271.39 451.99,271.48 452.75,271.57 453.50,271.66 454.25,271.75 455.00,271.83 455.75,271.92 456.51,272.00 457.26,272.09 458.01,272.17 458.76,272.25 459.51,272.33 460.27,272.41 461.02,272.49 461.77,272.57 462.52,272.65 463.28,272.72 464.03,272.80 464.78,272.88 465.53,272.95 466.28,273.02 467.04,273.10 467.79,273.17 468.54,273.24 469.29,273.31 470.04,273.38 470.80,273.45 471.55,273.52 472.30,273.59 473.05,273.66 473.80,273.73 474.56,273.79 475.31,273.86 476.06,273.92 476.81,273.99 477.57,274.05 478.32,274.12 479.07,274.18 479.82,274.24 480.57,274.30 481.33,274.37 482.08,274.43 482.83,274.49 483.58,274.55 484.33,274.61 485.09,274.67 485.84,274.72 486.59,274.78 487.34,274.84 488.09,274.90 488.85,274.95 489.60,275.01 490.35,275.06 491.10,275.12 491.85,275.17 492.61,275.23 493.36,275.28 494.11,275.34 494.86,275.39 495.62,275.44 496.37,275.49 497.12,275.54 497.87,275.60 498.62,275.65 499.38,275.70 500.13,275.75 500.88,275.80 501.63,275.85 502.38,275.90 503.14,275.94 503.89,275.99 504.64,276.04 505.39,276.09 506.14,276.14 506.90,276.18 507.65,276.23 508.40,276.27 509.15,276.32 509.91,276.37 510.66,276.41" fill="none" stroke="#ab2d41" stroke-width="1.3" stroke-linejoin="round"/>
<polyline points="326.54,296.20 326.69,295.42 326.84,294.65 326.99,293.90 327.15,293.16 327.30,292.43 327.45,291.71 327.60,291.01 327.75,290.32 327.90,289.64 328.05,288.97 328.20,288.31 328.35,287.67 328.50,287.04 328.65,286.41 328.80,285.80 328.95,285.20 329.10,284.61 329.25,284.03 329.40,283.46 329.55,282.90 329.70,282.34 329.85,281.80 330.00,281.27 330.15,280.75 330.30,280.23 330.45,279.73 330.60,279.23 330.76,278.74 330.91,278.26 331.06,277.79 331.21,277.33 331.36,276.87 331.51,276.43 331.66,275.99 331.81,275.55 331.96,275.13 332.11,274.71 332.26,274.30 332.41,273.90 332.56,273.50 332.71,273.11 332.86,272.73 333.01,272.35 333.16,271.98 333.31,271.62 333.46,271.26 333.61,270.91 333.76,270.57 333.91,270.23 334.06,269.90 334.21,269.57 334.37,269.25 334.52,268.93 334.67,268.62 334.82,268.32 334.97,268.02 335.12,267.72 335.27,267.43 335.42,267.15 335.57,266.87 335.72,266.59 335.87,266.32 336.02,266.06 336.17,265.80 336.32,265.54 336.47,265.29 336.62,265.04 337.37,263.87 338.13,262.79 338.88,261.80 339.63,260.89 340.38,260.06 341.13,259.30 341.89,258.61 342.64,257.97 343.39,257.38 344.14,256.84 344.89,256.35 345.65,255.90 346.40,255.49 347.15,255.11 347.90,254.76 348.66,254.44 349.41,254.15 350.16,253.88 350.91,253.63 351.66,253.41 352.42,253.20 353.17,253.01 353.92,252.84 354.67,252.68 355.42,252.54 356.18,252.40 356.93,252.28 357.68,252.17 358.43,252.06 359.18,251.97 359.94,251.88 360.69,251.80 361.44,251.73 362.19,251.67 362.95,251.60 363.70,251.55 364.45,251.50 365.20,251.45 365.95,251.41 366.71,251.37 367.46,251.33 368.21,251.30 368.96,251.27 369.71,251.24 370.47,251.21 371.22,251.19 371.97,252.02 372.12,252.31 372.27,252.60 372.42,252.88 372.57,253.16 372.72,253.43 372.87,253.69 373.02,253.94 373.17,254.19 373.32,254.43 373.47,254.67 373.62,254.90 373.78,255.13 373.93,255.35 374.08,255.56 374.23,255.77 374.38,255.98 374.53,256.18 374.68,256.37 374.83,256.56 374.98,256.75 375.13,256.93 375.28,257.11 375.43,257.29 375.58,257.46 375.73,257.62 375.88,257.79 376.03,257.95 376.18,258.10 376.33,258.26 376.48,258.41 376.63,258.55 376.78,258.69 376.93,258.83 377.08,258.97 377.23,259.11 377.39,259.24 377.54,259.37 377.69,259.49 377.84,259.62 377.99,259.74 378.14,259.86 378.29,259.98 378.44,260.09 378.59,260.20 378.74,260.31 378.89,260.42 379.04,260.53 379.19,260.63 379.34,260.73 379.49,260.83 379.64,260.93 379.79,261.03 379.94,261.13 380.09,261.22 380.24,261.31 380.39,261.40 380.54,261.49 380.69,261.58 380.85,261.66 381.00,261.75 381.15,261.83 381.30,261.91 381.45,261.99 381.60,262.07 381.75,262.15 381.90,262.23 382.05,262.30 382.20,262.38 382.35,262.45 382.50,262.53 382.65,262.60 382.80,262.67 382.95,262.74 383.10,262.81 383.25,262.87 383.40,262.94 383.55,263.01 383.70,263.07 383.85,263.13 384.00,263.20 384.15,263.26 384.30,263.32 384.46,263.38 384.61,263.44 384.76,263.50 384.91,263.56 385.06,263.62 385.21,263.68 385.36,263.73 385.51,263.79 385.66,263.85 385.81,263.90 385.96,263.96 386.11,264.01 386.26,264.06 386.41,264.12 386.56,264.17 387.31,264.42 388.07,264.66 388.82,264.90 389.57,265.12 390.32,265.33 391.07,265.54 391.83,265.74 392.58,265.94 393.33,266.13 394.08,266.31 394.83,266.49 395.59,266.67 396.34,266.84 397.09,267.01 397.84,267.18 398.59,267.34 399.35,267.50 400.10,267.66 400.85,267.81 401.60,267.96 402.36,268.11 403.11,268.26 403.86,268.41 404.61,268.55 405.36,268.69 406.12,268.83 406.87,268.97 407.62,269.11 408.37,269.24 409.12,269.38 409.88,269.51 410.63,269.64 411.38,269.77 412.13,269.89 412.88,270.02 413.64,270.14 414.39,270.27 415.14,270.39 415.89,270.51 416.64,270.63 417.40,270.74 418.15,270.86 418.90,270.98 419.65,271.09 420.41,271.20 421.16,271.32 421.91,271.43 422.66,271.54 423.41,271.64 424.17,271.75 424.92,271.86 425.67,271.96 426.42,272.07 427.17,272.17 427.93,272.27 428.68,272.38 429.43,272.48 430.18,272.58 430.93,272.67 431.69,272.77 432.44,272.87 433.19,272.96 433.94,273.06 434.70,273.15 435.45,273.25 436.20,273.34 436.95,273.43 437.70,273.52 438.46,273.61 439.21,273.70 439.96,273.79 440.71,273.88 441.46,273.96 442.22,274.05 442.97,274.14 443.72,274.22 444.47,274.30 445.22,274.39 445.98,274.47 446.73,274.55 447.48,274.63 448.23,274.71 448.99,274.79 449.74,274.87 450.49,274.95 451.24,275.03 451.99,275.11 452.75,275.18 453.50,275.26 454.25,275.34 455.00,275.41 455.75,275.49 456.51,275.56 457.26,275.63 458.01,275.71 458.76,275.78 459.51,275.85 460.27,275.92 461.02,275.99 461.77,276.06 462.52,276.13 463.28,276.20 464.03,276.27 464.78,276.34 465.53,276.40 466.28,276.47 467.04,276.54 467.79,276.60 468.54,276.67 469.29,276.73 470.04,276.80 470.80,276.86 471.55,276.93 472.30,276.99 473.05,277.05 473.80,277.11 474.56,277.18 475.31,277.24 476.06,277.30 476.81,277.36 477.57,277.42 478.32,277.48 479.07,277.54 479.82,277.60 480.57,277.66 481.33,277.72 482.08,277.77 482.83,277.83 483.58,277.89 484.33,277.95 485.09,278.00 485.84,278.06 486.59,278.11 487.34,278.17 488.09,278.22 488.85,278.28 489.60,278.33 490.35,278.39 491.10,278.44 491.85,278.49 492.61,278.55 493.36,278.60 494.11,278.65 494.86,278.70 495.62,278.76 496.37,278.81 497.12,278.86 497.87,278.91 498.62,278.96 499.38,279.01 500.13,279.06 500.88,279.11 501.63,279.16 502.38,279.21 503.14,279.26 503.89,279.31 504.64,279.36 505.39,279.40 506.14,279.45 506.90,279.50 507.65,279.55 508.40,279.59 509.15,279.64 509.91,279.69 510.66,279.73" fill="none" stroke="#ab2d41" stroke-width="1.3" stroke-linejoin="round"/>
<polyline points="326.54,296.20 326.69,295.93 326.84,295.67 326.99,295.40 327.15,295.14 327.30,294.88 327.45,294.63 327.60,294.38 327.75,294.12 327.90,293.88 328.05,293.63 328.20,293.39 328.35,293.14 328.50,292.90 328.65,292.67 328.80,292.43 328.95,292.20 329.10,291.97 329.25,291.74 329.40,291.51 329.55,291.29 329.70,291.07 329.85,290.85 330.00,290.63 330.15,290.41 330.30,290.20 330.45,289.99 330.60,289.78 330.76,289.57 330.91,289.37 331.06,289.16 331.21,288.96 331.36,288.76 331.51,288.56 331.66,288.36 331.81,288.17 331.96,287.98 332.11,287.79 332.26,287.60 332.41,287.41 332.56,287.22 332.71,287.04 332.86,286.86 333.01,286.68 333.16,286.50 333.31,286.32 333.46,286.15 333.61,285.97 333.76,285.80 333.91,285.63 334.06,285.46 334.21,285.29 334.37,285.13 334.52,284.96 334.67,284.80 334.82,284.64 334.97,284.48 335.12,284.32 335.27,284.17 335.42,284.01 335.57,283.86 335.72,283.70 335.87,283.55 336.02,283.40 336.17,283.26 336.32,283.11 336.47,282.96 336.62,282.82 337.37,282.12 338.13,281.45 338.88,280.82 339.63,280.21 340.38,279.63 341.13,279.08 341.89,278.55 342.64,278.04 343.39,277.56 344.14,277.11 344.89,276.67 345.65,276.25 346.40,275.86 347.15,275.48 347.90,275.11 348.66,274.77 349.41,274.44 350.16,274.13 350.91,273.83 351.66,273.54 352.42,273.27 353.17,273.01 353.92,272.76 354.67,272.52 355.42,272.30 356.18,272.08 356.93,271.87 357.68,271.68 358.43,271.49 359.18,271.31 359.94,271.14 360.69,270.98 361.44,270.82 362.19,270.68 362.95,270.54 363.70,270.40 364.45,270.27 365.20,270.15 365.95,270.03 366.71,269.92 367.46,269.82 368.21,269.71 368.96,269.62 369.71,269.52 370.47,269.44 371.22,269.35 371.97,270.36 372.12,270.56 372.27,270.71 372.42,270.82 372.57,270.91 372.72,270.98 372.87,271.04 373.02,271.09 373.17,271.14 373.32,271.18 373.47,271.22 373.62,271.26 373.78,271.29 373.93,271.33 374.08,271.36 374.23,271.40 374.38,271.44 374.53,271.47 374.68,271.50 374.83,271.54 374.98,271.57 375.13,271.61 375.28,271.64 375.43,271.68 375.58,271.71 375.73,271.74 375.88,271.78 376.03,271.81 376.18,271.84 376.33,271.88 376.48,271.91 376.63,271.94 376.78,271.98 376.93,272.01 377.08,272.04 377.23,272.08 377.39,272.11 377.54,272.14 377.69,272.17 377.84,272.21 377.99,272.24 378.14,272.27 378.29,272.30 378.44,272.34 378.59,272.37 378.74,272.40 378.89,272.43 379.04,272.46 379.19,272.50 379.34,272.53 379.49,272.56 379.64,272.59 379.79,272.62 379.94,272.65 380.09,272.68 380.24,272.72 380.39,272.75 380.54,272.78 380.69,272.81 380.85,272.84 381.00,272.87 381.15,272.90 381.30,272.93 381.45,272.96 381.60,272.99 381.75,273.02 381.90,273.05 382.05,273.08 382.20,273.11 382.35,273.14 382.50,273.17 382.65,273.20 382.80,273.23 382.95,273.26 383.10,273.29 383.25,273.32 383.40,273.35 383.55,273.38 383.70,273.41 383.85,273.44 384.00,273.47 384.15,273.50 384.30,273.53 384.46,273.55 384.61,273.58 384.76,273.61 384.91,273.64 385.06,273.67 385.21,273.70 385.36,273.73 385.51,273.75 385.66,273.78 385.81,273.81 385.96,273.84 386.11,273.87 386.26,273.89 386.41,273.92 386.56,273.95 387.31,274.09 388.07,274.22 388.82,274.36 389.57,274.49 390.32,274.62 391.07,274.75 391.83,274.88 392.58,275.00 393.33,275.13 394.08,275.25 394.83,275.37 395.59,275.49 396.34,275.61 397.09,275.72 397.84,275.84 398.59,275.95 399.35,276.06 400.10,276.17 400.85,276.28 401.60,276.39 402.36,276.49 403.11,276.60 403.86,276.70 404.61,276.80 405.36,276.90 406.12,277.00 406.87,277.10 407.62,277.19 408.37,277.29 409.12,277.38 409.88,277.48 410.63,277.57 411.38,277.66 412.13,277.75 412.88,277.84 413.64,277.92 414.39,278.01 415.14,278.10 415.89,278.18 416.64,278.26 417.40,278.34 418.15,278.42 418.90,278.50 419.65,278.58 420.41,278.66 421.16,278.74 421.91,278.81 422.66,278.89 423.41,278.96 424.17,279.04 424.92,279.11 425.67,279.18 426.42,279.25 427.17,279.32 427.93,279.39 428.68,279.46 429.43,279.52 430.18,279.59 430.93,279.65 431.69,279.72 432.44,279.78 433.19,279.85 433.94,279.91 434.70,279.97 435.45,280.03 436.20,280.09 436.95,280.15 437.70,280.21 438.46,280.27 439.21,280.33 439.96,280.38 440.71,280.44 441.46,280.49 442.22,280.55 442.97,280.60 443.72,280.66 444.47,280.71 445.22,280.76 445.98,280.81 446.73,280.87 447.48,280.92 448.23,280.97 448.99,281.02 449.74,281.06 450.49,281.11 451.24,281.16 451.99,281.21 452.75,281.26 453.50,281.30 454.25,281.35 455.00,281.39 455.75,281.44 456.51,281.48 457.26,281.53 458.01,281.57 458.76,281.61 459.51,281.65 460.27,281.70 461.02,281.74 461.77,281.78 462.52,281.82 463.28,281.86 464.03,281.90 464.78,281.94 465.53,281.98 466.28,282.02 467.04,282.05 467.79,282.09 468.54,282.13 469.29,282.17 470.04,282.20 470.80,282.24 471.55,282.28 472.30,282.31 473.05,282.35 473.80,282.38 474.56,282.42 475.31,282.45 476.06,282.48 476.81,282.52 477.57,282.55 478.32,282.58 479.07,282.62 479.82,282.65 480.57,282.68 481.33,282.71 482.08,282.74 482.83,282.77 483.58,282.80 484.33,282.84 485.09,282.87 485.84,282.90 486.59,282.93 487.34,282.95 488.09,282.98 488.85,283.01 489.60,283.04 490.35,283.07 491.10,283.10 491.85,283.12 492.61,283.15 493.36,283.18 494.11,283.21 494.86,283.23 495.62,283.26 496.37,283.29 497.12,283.31 497.87,283.34 498.62,283.36 499.38,283.39 500.13,283.42 500.88,283.44 501.63,283.47 502.38,283.49 503.14,283.51 503.89,283.54 504.64,283.56 505.39,283.59 506.14,283.61 506.90,283.63 507.65,283.66 508.40,283.68 509.15,283.70 509.91,283.73 510.66,283.75" fill="none" stroke="#ab2d41" stroke-width="1.3" stroke-linejoin="round"/>
<polyline points="326.54,296.20 326.69,296.13 326.84,296.06 326.99,295.99 327.15,295.92 327.30,295.85 327.45,295.78 327.60,295.71 327.75,295.64 327.90,295.57 328.05,295.51 328.20,295.44 328.35,295.37 328.50,295.31 328.65,295.24 328.80,295.17 328.95,295.11 329.10,295.04 329.25,294.98 329.40,294.92 329.55,294.85 329.70,294.79 329.85,294.73 330.00,294.66 330.15,294.60 330.30,294.54 330.45,294.48 330.60,294.42 330.76,294.36 330.91,294.30 331.06,294.24 331.21,294.18 331.36,294.12 331.51,294.06 331.66,294.00 331.81,293.94 331.96,293.89 332.11,293.83 332.26,293.77 332.41,293.71 332.56,293.66 332.71,293.60 332.86,293.55 333.01,293.49 333.16,293.44 333.31,293.38 333.46,293.33 333.61,293.27 333.76,293.22 333.91,293.17 334.06,293.11 334.21,293.06 334.37,293.01 334.52,292.96 334.67,292.90 334.82,292.85 334.97,292.80 335.12,292.75 335.27,292.70 335.42,292.65 335.57,292.60 335.72,292.55 335.87,292.50 336.02,292.45 336.17,292.40 336.32,292.35 336.47,292.30 336.62,292.26 337.37,292.02 338.13,291.79 338.88,291.57 339.63,291.36 340.38,291.15 341.13,290.94 341.89,290.75 342.64,290.56 343.39,290.37 344.14,290.19 344.89,290.02 345.65,289.85 346.40,289.68 347.15,289.52 347.90,289.37 348.66,289.22 349.41,289.07 350.16,288.93 350.91,288.79 351.66,288.66 352.42,288.53 353.17,288.41 353.92,288.28 354.67,288.17 355.42,288.05 356.18,287.94 356.93,287.83 357.68,287.73 358.43,287.63 359.18,287.53 359.94,287.43 360.69,287.34 361.44,287.25 362.19,287.16 362.95,287.08 363.70,286.99 364.45,286.91 365.20,286.84 365.95,286.76 366.71,286.69 367.46,286.62 368.21,286.55 368.96,286.48 369.71,286.42 370.47,286.35 371.22,286.29 371.97,285.76 372.12,285.78 372.27,285.79 372.42,285.81 372.57,285.82 372.72,285.84 372.87,285.85 373.02,285.87 373.17,285.88 373.32,285.89 373.47,285.91 373.62,285.92 373.78,285.94 373.93,285.95 374.08,285.96 374.23,285.98 374.38,285.99 374.53,286.01 374.68,286.02 374.83,286.03 374.98,286.05 375.13,286.06 375.28,286.07 375.43,286.09 375.58,286.10 375.73,286.11 375.88,286.13 376.03,286.14 376.18,286.15 376.33,286.17 376.48,286.18 376.63,286.19 376.78,286.21 376.93,286.22 377.08,286.23 377.23,286.25 377.39,286.26 377.54,286.27 377.69,286.29 377.84,286.30 377.99,286.31 378.14,286.32 378.29,286.34 378.44,286.35 378.59,286.36 378.74,286.37 378.89,286.39 379.04,286.40 379.19,286.41 379.34,286.42 379.49,286.44 379.64,286.45 379.79,286.46 379.94,286.47 380.09,286.48 380.24,286.50 380.39,286.51 380.54,286.52 380.69,286.53 380.85,286.54 381.00,286.56 381.15,286.57 381.30,286.58 381.45,286.59 381.60,286.60 381.75,286.62 381.90,286.63 382.05,286.64 382.20,286.65 382.35,286.66 382.50,286.67 382.65,286.68 382.80,286.70 382.95,286.71 383.10,286.72 383.25,286.73 383.40,286.74 383.55,286.75 383.70,286.76 383.85,286.78 384.00,286.79 384.15,286.80 384.30,286.81 384.46,286.82 384.61,286.83 384.76,286.84 384.91,286.85 385.06,286.86 385.21,286.87 385.36,286.89 385.51,286.90 385.66,286.91 385.81,286.92 385.96,286.93 386.11,286.94 386.26,286.95 386.41,286.96 386.56,286.97 387.31,287.02 388.07,287.07 388.82,287.12 389.57,287.17 390.32,287.22 391.07,287.27 391.83,287.32 392.58,287.37 393.33,287.41 394.08,287.46 394.83,287.50 395.59,287.55 396.34,287.59 397.09,287.63 397.84,287.67 398.59,287.72 399.35,287.76 400.10,287.80 400.85,287.84 401.60,287.87 402.36,287.91 403.11,287.95 403.86,287.99 404.61,288.03 405.36,288.06 406.12,288.10 406.87,288.13 407.62,288.17 408.37,288.20 409.12,288.24 409.88,288.27 410.63,288.30 411.38,288.34 412.13,288.37 412.88,288.40 413.64,288.43 414.39,288.46 415.14,288.49 415.89,288.52 416.64,288.55 417.40,288.58 418.15,288.61 418.90,288.64 419.65,288.67 420.41,288.69 421.16,288.72 421.91,288.75 422.66,288.77 423.41,288.80 424.17,288.83 424.92,288.85 425.67,288.88 426.42,288.90 427.17,288.93 427.93,288.95 428.68,288.98 429.43,289.00 430.18,289.02 430.93,289.05 431.69,289.07 432.44,289.09 433.19,289.11 433.94,289.14 434.70,289.16 435.45,289.18 436.20,289.20 436.95,289.22 437.70,289.24 438.46,289.26 439.21,289.28 439.96,289.30 440.71,289.32 441.46,289.34 442.22,289.36 442.97,289.38 443.72,289.40 444.47,289.42 445.22,289.43 445.98,289.45 446.73,289.47 447.48,289.49 448.23,289.51 448.99,289.52 449.74,289.54 450.49,289.56 451.24,289.57 451.99,289.59 452.75,289.61 453.50,289.62 454.25,289.64 455.00,289.66 455.75,289.67 456.51,289.69 457.26,289.70 458.01,289.72 458.76,289.73 459.51,289.75 460.27,289.76 461.02,289.78 461.77,289.79 462.52,289.80 463.28,289.82 464.03,289.83 464.78,289.85 465.53,289.86 466.28,289.87 467.04,289.89 467.79,289.90 468.54,289.91 469.29,289.93 470.04,289.94 470.80,289.95 471.55,289.96 472.30,289.98 473.05,289.99 473.80,290.00 474.56,290.01 475.31,290.02 476.06,290.04 476.81,290.05 477.57,290.06 478.32,290.07 479.07,290.08 479.82,290.09 480.57,290.10 481.33,290.11 482.08,290.13 482.83,290.14 483.58,290.15 484.33,290.16 485.09,290.17 485.84,290.18 486.59,290.19 487.34,290.20 488.09,290.21 488.85,290.22 489.60,290.23 490.35,290.24 491.10,290.25 491.85,290.26 492.61,290.27 493.36,290.28 494.11,290.29 494.86,290.30 495.62,290.31 496.37,290.31 497.12,290.32 497.87,290.33 498.62,290.34 499.38,290.35 500.13,290.36 500.88,290.37 501.63,290.38 502.38,290.39 503.14,290.39 503.89,290.40 504.64,290.41 505.39,290.42 506.14,290.43 506.90,290.44 507.65,290.44 508.40,290.45 509.15,290.46 509.91,290.47 510.66,290.48" fill="none" stroke="#ab2d41" stroke-width="1.3" stroke-linejoin="round"/>
<polyline points="326.54,296.20 326.69,296.17 326.84,296.15 326.99,296.12 327.15,296.09 327.30,296.06 327.45,296.04 327.60,296.01 327.75,295.98 327.90,295.96 328.05,295.93 328.20,295.91 328.35,295.88 328.50,295.85 328.65,295.83 328.80,295.80 328.95,295.78 329.10,295.75 329.25,295.73 329.40,295.70 329.55,295.68 329.70,295.65 329.85,295.63 330.00,295.60 330.15,295.58 330.30,295.55 330.45,295.53 330.60,295.50 330.76,295.48 330.91,295.46 331.06,295.43 331.21,295.41 331.36,295.39 331.51,295.36 331.66,295.34 331.81,295.32 331.96,295.29 332.11,295.27 332.26,295.25 332.41,295.22 332.56,295.20 332.71,295.18 332.86,295.16 333.01,295.13 333.16,295.11 333.31,295.09 333.46,295.07 333.61,295.05 333.76,295.02 333.91,295.00 334.06,294.98 334.21,294.96 334.37,294.94 334.52,294.92 334.67,294.89 334.82,294.87 334.97,294.85 335.12,294.83 335.27,294.81 335.42,294.79 335.57,294.77 335.72,294.75 335.87,294.73 336.02,294.71 336.17,294.69 336.32,294.67 336.47,294.65 336.62,294.63 337.37,294.53 338.13,294.43 338.88,294.34 339.63,294.25 340.38,294.16 341.13,294.07 341.89,293.99 342.64,293.90 343.39,293.82 344.14,293.74 344.89,293.67 345.65,293.59 346.40,293.52 347.15,293.44 347.90,293.37 348.66,293.31 349.41,293.24 350.16,293.17 350.91,293.11 351.66,293.05 352.42,292.99 353.17,292.93 353.92,292.87 354.67,292.81 355.42,292.76 356.18,292.70 356.93,292.65 357.68,292.60 358.43,292.55 359.18,292.50 359.94,292.45 360.69,292.41 361.44,292.36 362.19,292.32 362.95,292.27 363.70,292.23 364.45,292.19 365.20,292.15 365.95,292.11 366.71,292.07 367.46,292.03 368.21,291.99 368.96,291.96 369.71,291.92 370.47,291.89 371.22,291.86 371.97,292.62 372.12,292.63 372.27,292.64 372.42,292.66 372.57,292.67 372.72,292.68 372.87,292.69 373.02,292.70 373.17,292.71 373.32,292.73 373.47,292.74 373.62,292.75 373.78,292.76 373.93,292.77 374.08,292.78 374.23,292.79 374.38,292.80 374.53,292.81 374.68,292.83 374.83,292.84 374.98,292.85 375.13,292.86 375.28,292.87 375.43,292.88 375.58,292.89 375.73,292.90 375.88,292.91 376.03,292.92 376.18,292.93 376.33,292.94 376.48,292.95 376.63,292.96 376.78,292.97 376.93,292.98 377.08,292.98 377.23,292.99 377.39,293.00 377.54,293.01 377.69,293.02 377.84,293.03 377.99,293.04 378.14,293.05 378.29,293.06 378.44,293.07 378.59,293.07 378.74,293.08 378.89,293.09 379.04,293.10 379.19,293.11 379.34,293.12 379.49,293.12 379.64,293.13 379.79,293.14 379.94,293.15 380.09,293.16 380.24,293.16 380.39,293.17 380.54,293.18 380.69,293.19 380.85,293.20 381.00,293.20 381.15,293.21 381.30,293.22 381.45,293.22 381.60,293.23 381.75,293.24 381.90,293.25 382.05,293.25 382.20,293.26 382.35,293.27 382.50,293.27 382.65,293.28 382.80,293.29 382.95,293.30 383.10,293.30 383.25,293.31 383.40,293.32 383.55,293.32 383.70,293.33 383.85,293.34 384.00,293.34 384.15,293.35 384.30,293.35 384.46,293.36 384.61,293.37 384.76,293.37 384.91,293.38 385.06,293.39 385.21,293.39 385.36,293.40 385.51,293.40 385.66,293.41 385.81,293.41 385.96,293.42 386.11,293.43 386.26,293.43 386.41,293.44 386.56,293.44 387.31,293.47 388.07,293.50 388.82,293.52 389.57,293.55 390.32,293.57 391.07,293.59 391.83,293.62 392.58,293.64 393.33,293.66 394.08,293.68 394.83,293.70 395.59,293.72 396.34,293.73 397.09,293.75 397.84,293.77 398.59,293.78 399.35,293.80 400.10,293.81 400.85,293.83 401.60,293.84 402.36,293.86 403.11,293.87 403.86,293.88 404.61,293.90 405.36,293.91 406.12,293.92 406.87,293.93 407.62,293.94 408.37,293.95 409.12,293.96 409.88,293.97 410.63,293.98 411.38,293.99 412.13,294.00 412.88,294.01 413.64,294.02 414.39,294.03 415.14,294.04 415.89,294.05 416.64,294.05 417.40,294.06 418.15,294.07 418.90,294.08 419.65,294.09 420.41,294.09 421.16,294.10 421.91,294.11 422.66,294.11 423.41,294.12 424.17,294.13 424.92,294.13 425.67,294.14 426.42,294.15 427.17,294.15 427.93,294.16 428.68,294.16 429.43,294.17 430.18,294.17 430.93,294.18 431.69,294.19 432.44,294.19 433.19,294.20 433.94,294.20 434.70,294.21 435.45,294.21 436.20,294.22 436.95,294.22 437.70,294.22 438.46,294.23 439.21,294.23 439.96,294.24 440.71,294.24 441.46,294.25 442.22,294.25 442.97,294.26 443.72,294.26 444.47,294.26 445.22,294.27 445.98,294.27 446.73,294.28 447.48,294.28 448.23,294.28 448.99,294.29 449.74,294.29 450.49,294.29 451.24,294.30 451.99,294.30 452.75,294.31 453.50,294.31 454.25,294.31 455.00,294.32 455.75,294.32 456.51,294.32 457.26,294.33 458.01,294.33 458.76,294.33 459.51,294.34 460.27,294.34 461.02,294.34 461.77,294.35 462.52,294.35 463.28,294.35 464.03,294.35 464.78,294.36 465.53,294.36 466.28,294.36 467.04,294.37 467.79,294.37 468.54,294.37 469.29,294.37 470.04,294.38 470.80,294.38 471.55,294.38 472.30,294.39 473.05,294.39 473.80,294.39 474.56,294.39 475.31,294.40 476.06,294.40 476.81,294.40 477.57,294.40 478.32,294.41 479.07,294.41 479.82,294.41 480.57,294.41 481.33,294.42 482.08,294.42 482.83,294.42 483.58,294.42 484.33,294.43 485.09,294.43 485.84,294.43 486.59,294.43 487.34,294.44 488.09,294.44 488.85,294.44 489.60,294.44 490.35,294.44 491.10,294.45 491.85,294.45 492.61,294.45 493.36,294.45 494.11,294.46 494.86,294.46 495.62,294.46 496.37,294.46 497.12,294.46 497.87,294.47 498.62,294.47 499.38,294.47 500.13,294.47 500.88,294.47 501.63,294.48 502.38,294.48 503.14,294.48 503.89,294.48 504.64,294.48 505.39,294.49 506.14,294.49 506.90,294.49 507.65,294.49 508.40,294.49 509.15,294.50 509.91,294.50 510.66,294.50" fill="none" stroke="#ab2d41" stroke-width="1.3" stroke-linejoin="round"/>
<text x="352.5" y="200.3" font-size="5.2" text-anchor="start" fill="#231f20" stroke="#231f20" stroke-width="0.08">1:2</text>
<text x="352.5" y="209.10000000000002" font-size="5.2" text-anchor="start" fill="#231f20" stroke="#231f20" stroke-width="0.08">1:4</text>
<text x="352.5" y="230.20000000000002" font-size="5.2" text-anchor="start" fill="#231f20" stroke="#231f20" stroke-width="0.08">1:8</text>
<text x="352.5" y="249.4" font-size="5.2" text-anchor="start" fill="#231f20" stroke="#231f20" stroke-width="0.08">1:16</text>
<text x="352.5" y="268.7" font-size="5.2" text-anchor="start" fill="#231f20" stroke="#231f20" stroke-width="0.08">1:32</text>
<text x="352.5" y="285.2" font-size="5.2" text-anchor="start" fill="#231f20" stroke="#231f20" stroke-width="0.08">1:64</text>
<text x="352.5" y="292.40000000000003" font-size="5.2" text-anchor="start" fill="#231f20" stroke="#231f20" stroke-width="0.08">1:128</text>
<text x="349.8" y="186.4" font-size="5.2" text-anchor="middle" fill="#231f20" textLength="71" lengthAdjust="spacingAndGlyphs" stroke="#231f20" stroke-width="0.08">40 µg/mL PF4 + 1 U/mL heparin</text>
<line x1="411.70" y1="190.00" x2="411.70" y2="235.80" stroke="#2a2a2a" stroke-width="0.9"/>
<line x1="411.20" y1="235.30" x2="511.60" y2="235.30" stroke="#2a2a2a" stroke-width="0.9"/>
<line x1="408.40" y1="235.30" x2="411.70" y2="235.30" stroke="#2a2a2a" stroke-width="0.9"/>
<text x="404.8" y="237.0" font-size="4.8" text-anchor="end" fill="#555" stroke="#555" stroke-width="0.08">0</text>
<line x1="408.40" y1="228.17" x2="411.70" y2="228.17" stroke="#2a2a2a" stroke-width="0.9"/>
<text x="404.8" y="229.86599999999999" font-size="4.8" text-anchor="end" fill="#555" stroke="#555" stroke-width="0.08">200</text>
<line x1="408.40" y1="221.03" x2="411.70" y2="221.03" stroke="#2a2a2a" stroke-width="0.9"/>
<text x="404.8" y="222.732" font-size="4.8" text-anchor="end" fill="#555" stroke="#555" stroke-width="0.08">400</text>
<line x1="408.40" y1="213.90" x2="411.70" y2="213.90" stroke="#2a2a2a" stroke-width="0.9"/>
<text x="404.8" y="215.598" font-size="4.8" text-anchor="end" fill="#555" stroke="#555" stroke-width="0.08">600</text>
<line x1="408.40" y1="206.76" x2="411.70" y2="206.76" stroke="#2a2a2a" stroke-width="0.9"/>
<text x="404.8" y="208.464" font-size="4.8" text-anchor="end" fill="#555" stroke="#555" stroke-width="0.08">800</text>
<line x1="408.40" y1="199.63" x2="411.70" y2="199.63" stroke="#2a2a2a" stroke-width="0.9"/>
<text x="404.8" y="201.32999999999998" font-size="4.8" text-anchor="end" fill="#555" stroke="#555" stroke-width="0.08">1000</text>
<line x1="408.40" y1="192.50" x2="411.70" y2="192.50" stroke="#2a2a2a" stroke-width="0.9"/>
<text x="404.8" y="194.196" font-size="4.8" text-anchor="end" fill="#555" stroke="#555" stroke-width="0.08">1200</text>
<line x1="411.70" y1="235.30" x2="411.70" y2="237.60" stroke="#2a2a2a" stroke-width="0.8"/>
<text x="411.7" y="245.0" font-size="4.6" text-anchor="middle" fill="#555" stroke="#555" stroke-width="0.08">0.00</text>
<line x1="429.70" y1="235.30" x2="429.70" y2="237.60" stroke="#2a2a2a" stroke-width="0.8"/>
<text x="429.7" y="245.0" font-size="4.6" text-anchor="middle" fill="#555" stroke="#555" stroke-width="0.08">0.25</text>
<line x1="447.70" y1="235.30" x2="447.70" y2="237.60" stroke="#2a2a2a" stroke-width="0.8"/>
<text x="447.7" y="245.0" font-size="4.6" text-anchor="middle" fill="#555" stroke="#555" stroke-width="0.08">0.50</text>
<line x1="465.70" y1="235.30" x2="465.70" y2="237.60" stroke="#2a2a2a" stroke-width="0.8"/>
<text x="465.7" y="245.0" font-size="4.6" text-anchor="middle" fill="#555" stroke="#555" stroke-width="0.08">0.75</text>
<line x1="483.70" y1="235.30" x2="483.70" y2="237.60" stroke="#2a2a2a" stroke-width="0.8"/>
<text x="483.7" y="245.0" font-size="4.6" text-anchor="middle" fill="#555" stroke="#555" stroke-width="0.08">1.00</text>
<line x1="501.70" y1="235.30" x2="501.70" y2="237.60" stroke="#2a2a2a" stroke-width="0.8"/>
<text x="501.7" y="245.0" font-size="4.6" text-anchor="middle" fill="#555" stroke="#555" stroke-width="0.08">1.25</text>
<text x="461.5" y="254.5" font-size="6.6" text-anchor="middle" fill="#231f20" textLength="61.8" lengthAdjust="spacingAndGlyphs" stroke="#231f20" stroke-width="0.1">Concentration (µmol/l)</text>
<text x="386.0" y="211.0" font-size="6.6" text-anchor="middle" fill="#231f20" textLength="59.5" lengthAdjust="spacingAndGlyphs" transform="rotate(-90 386.0 211.0)" stroke="#231f20" stroke-width="0.15">PF4/heparin binding</text>
<text x="392.8" y="210.5" font-size="5.4" text-anchor="middle" fill="#231f20" transform="rotate(-90 392.8 210.5)" stroke="#231f20" stroke-width="0.08">(RU)</text>
<line x1="434.50" y1="193.00" x2="434.50" y2="235.30" stroke="#666" stroke-width="1.0" stroke-dasharray="2.6 1.1 0.9 1.1"/>
<polyline points="411.70,235.30 412.42,233.63 413.14,232.10 413.86,230.68 414.58,229.36 415.30,228.14 416.02,227.00 416.74,225.93 417.46,224.93 418.18,223.99 418.90,223.10 419.62,222.27 420.34,221.47 421.06,220.72 421.78,220.01 422.50,219.33 423.22,218.69 423.94,218.07 424.66,217.48 425.38,216.92 426.10,216.38 426.82,215.86 427.54,215.37 428.26,214.89 428.98,214.43 429.70,213.99 430.42,213.56 431.14,213.15 431.86,212.75 432.58,212.36 433.30,211.99 434.02,211.63 434.74,211.28 435.46,210.94 436.18,210.61 436.90,210.29 437.62,209.97 438.34,209.67 439.06,209.37 439.78,209.09 440.50,208.80 441.22,208.53 441.94,208.26 442.66,208.00 443.38,207.75 444.10,207.50 444.82,207.25 445.54,207.01 446.26,206.78 446.98,206.55 447.70,206.33 448.42,206.11 449.14,205.89 449.86,205.68 450.58,205.47 451.30,205.27 452.02,205.06 452.74,204.87 453.46,204.67 454.18,204.48 454.90,204.30 455.62,204.11 456.34,203.93 457.06,203.75 457.78,203.57 458.50,203.40 459.22,203.23 459.94,203.06 460.66,202.89 461.38,202.73 462.10,202.57 462.82,202.41 463.54,202.25 464.26,202.09 464.98,201.94 465.70,201.79 466.42,201.64 467.14,201.49 467.86,201.34 468.58,201.20 469.30,201.05 470.02,200.91 470.74,200.77 471.46,200.63 472.18,200.49 472.90,200.36 473.62,200.22 474.34,200.09 475.06,199.96 475.78,199.83 476.50,199.70 477.22,199.57 477.94,199.44 478.66,199.31 479.38,199.19 480.10,199.06 480.82,198.94 481.54,198.82 482.26,198.70 482.98,198.58 483.70,198.46 484.42,198.34 485.14,198.22 485.86,198.10 486.58,197.99 487.30,197.87 488.02,197.76 488.74,197.65 489.46,197.53 490.18,197.42 490.90,197.31 491.62,197.20 492.34,197.09 493.06,196.98 493.78,196.87 494.50,196.76 495.22,196.66 495.94,196.55 496.66,196.44 497.38,196.34 498.10,196.23 498.82,196.13 499.54,196.03 500.26,195.92 500.98,195.82" fill="none" stroke="#ab2d41" stroke-width="1.5" stroke-linejoin="round"/>
<circle cx="413.72" cy="231.70" r="1.3" fill="#ab2d41"/>
<circle cx="416.81" cy="225.70" r="1.3" fill="#ab2d41"/>
<circle cx="422.50" cy="219.00" r="1.3" fill="#ab2d41"/>
<circle cx="455.91" cy="204.02" r="1.3" fill="#ab2d41"/>
<circle cx="471.32" cy="200.81" r="1.3" fill="#ab2d41"/>
<circle cx="501.12" cy="195.71" r="1.3" fill="#ab2d41"/>
<circle cx="411.70" cy="235.30" r="1.3" fill="#ab2d41"/>
<rect x="0" y="0" width="2" height="332" fill="#4a4a4a"/>
<rect x="0" y="0" width="520" height="1.2" fill="#111"/>
<rect x="518.8" y="0" width="1.2" height="332" fill="#111"/>
<rect x="0" y="330" width="520" height="1" fill="#8c8c8c"/>
<rect x="0" y="331" width="520" height="1" fill="#444"/>
</svg></body></html>
